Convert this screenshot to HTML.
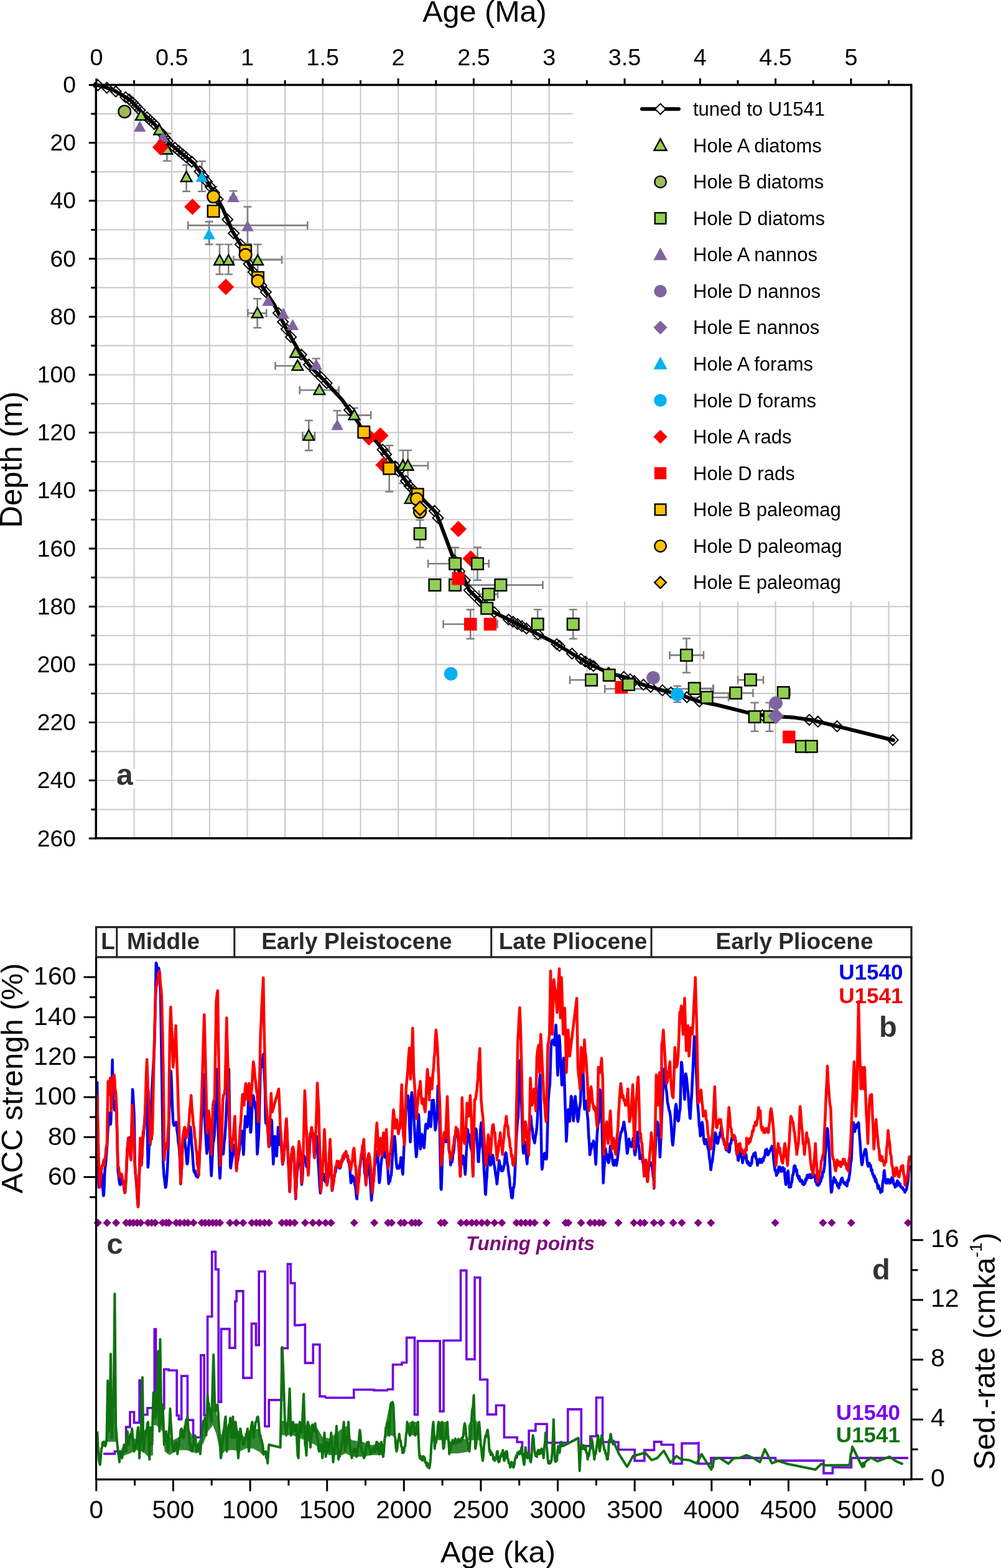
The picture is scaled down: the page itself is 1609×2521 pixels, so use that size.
<!DOCTYPE html>
<html><head><meta charset="utf-8"><title>Age model figure</title><style>html,body{margin:0;padding:0;background:#fff;}svg{display:block;}</style></head><body>
<svg width="1609" height="2521" viewBox="0 0 1609 2521" font-family="'Liberation Sans', Arial, Helvetica, sans-serif"><defs><clipPath id="clipb"><rect x="154.5" y="1539.8" width="1310.5" height="421.2"/></clipPath></defs><rect width="1609" height="2521" fill="#fff"/><path d="M215.6 136.4V1347.8M276.2 136.4V1347.8M336.9 136.4V1347.8M397.5 136.4V1347.8M458.1 136.4V1347.8M518.8 136.4V1347.8M579.5 136.4V1347.8M640.1 136.4V1347.8M700.8 136.4V1347.8M761.4 136.4V1347.8M822 136.4V1347.8M882.7 136.4V1347.8M943.3 967V1347.8M1004 967V1347.8M1064.7 967V1347.8M1125.3 967V1347.8M1186 967V1347.8M1246.6 967V1347.8M1307.2 967V1347.8M1367.9 967V1347.8M1428.5 967V1347.8M154.3 183H921M154.3 229.6H921M154.3 276.2H921M154.3 322.8H921M154.3 369.4H921M154.3 416H921M154.3 462.6H921M154.3 509.2H921M154.3 555.8H921M154.3 602.4H921M154.3 649H921M154.3 695.6H921M154.3 742.2H921M154.3 788.8H921M154.3 835.4H921M154.3 882H921M154.3 928.6H921M154.3 975.2H1464.8M154.3 1021.8H1464.8M154.3 1068.4H1464.8M154.3 1115H1464.8M154.3 1161.6H1464.8M154.3 1208.2H1464.8M154.3 1254.8H1464.8M154.3 1301.4H1464.8" stroke="#c8c8c8" stroke-width="2" fill="none"/>
<path d="M268.4 214.6V258.8M261.9 214.6H274.9M261.9 258.8H274.9M299.6 265.3V307.7M293.1 265.3H306.1M293.1 307.7H306.1M324.4 259.3V307.7M317.9 259.3H330.9M317.9 307.7H330.9M375.1 307V317M368.6 307H381.6M368.6 317H381.6M398 332.5V392M391.5 332.5H404.5M391.5 392H404.5M336.1 356.4V392.9M329.6 356.4H342.6M329.6 392.9H342.6M353 393V441M346.5 393H359.5M346.5 441H359.5M367.3 393V441M360.8 393H373.8M360.8 441H373.8M414.2 393V441M407.7 393H420.7M407.7 441H420.7M413.7 480.2V527M407.2 480.2H420.2M407.2 527H420.2M508.2 576.5V587M501.7 576.5H514.7M501.7 587H514.7M542 660.3V684M535.5 660.3H548.5M535.5 684H548.5M496.3 676V724.1M489.8 676H502.8M489.8 724.1H502.8M625.7 716.3V790.5M619.2 716.3H632.2M619.2 790.5H632.2M647.8 724V777M641.3 724H654.3M641.3 777H654.3M655.6 724V777M649.1 724H662.1M649.1 777H662.1M675.1 836V880.2M668.6 836H681.6M668.6 880.2H681.6M731.6 880.2V906M725.1 880.2H738.1M725.1 906H738.1M767.5 880V932.8M761 880H774M761 932.8H774M756.2 980.1V1027M749.7 980.1H762.7M749.7 1027H762.7M864.2 980V1027M857.7 980H870.7M857.7 1027H870.7M921.2 980V1027M914.7 980H927.7M914.7 1027H927.7M1103.4 1026.5V1081.5M1096.9 1026.5H1109.9M1096.9 1081.5H1109.9M1213.1 1129.8V1175.7M1206.6 1129.8H1219.6M1206.6 1175.7H1219.6M1237 1129.8V1175.7M1230.5 1129.8H1243.5M1230.5 1175.7H1243.5M1088.7 1103V1129M1082.2 1103H1095.2M1082.2 1129H1095.2M261.9 214V224M255.4 214H268.4M255.4 224H268.4M569.4 656V668M562.9 656H575.9M562.9 668H575.9M343 300V316M336.5 300H349.5M336.5 316H349.5M302.2 362.4H494.3M302.2 355.9V368.9M494.3 355.9V368.9M375.5 417.7H453M375.5 411.2V424.2M453 411.2V424.2M398.4 503.6H428.3M398.4 497.1V510.1M428.3 497.1V510.1M442.6 588.2H482M442.6 581.7V594.7M482 581.7V594.7M481.7 627.2H544.6M481.7 620.7V633.7M544.6 620.7V633.7M542 667.6H596.2M542 661.1V674.1M596.2 661.1V674.1M486.4 700.7H506M486.4 694.2V707.2M506 694.2V707.2M640 748.8H688M640 742.3V755.3M688 742.3V755.3M688.1 906.3H731.6M688.1 899.8V912.8M731.6 899.8V912.8M767.5 906.3H785.7M767.5 899.8V912.8M785.7 899.8V912.8M754 940.6H872.5M754 934.1V947.1M872.5 934.1V947.1M712.5 1003.5H756.2M712.5 997V1010M756.2 997V1010M787.9 1003.5H799.6M787.9 997V1010M799.6 997V1010M916 1093.3H950.6M916 1086.8V1099.8M950.6 1086.8V1099.8M1076.5 1053.4H1130.9M1076.5 1046.9V1059.9M1130.9 1046.9V1059.9M1116.2 1106.9H1146.8M1116.2 1100.4V1113.4M1146.8 1100.4V1113.4M1090 1121.3H1171M1090 1114.8V1127.8M1171 1114.8V1127.8M1143 1114.2H1210.4M1143 1107.7V1120.7M1210.4 1107.7V1120.7M1186 1093.1H1227M1186 1086.6V1099.6M1227 1086.6V1099.6M1259.3 1113.6H1270M1259.3 1107.1V1120.1M1270 1107.1V1120.1M972.2 1107.5H1146M972.2 1101V1114M1146 1101V1114M770 955.4H800M770 948.9V961.9M800 948.9V961.9" stroke="#808080" stroke-width="2.6" fill="none"/>
<path d="M157.4 128.5L165.9 137L157.4 145.5L148.9 137ZM171.8 132.6L180.3 141.1L171.8 149.6L163.3 141.1ZM186.1 138.5L194.6 147L186.1 155.5L177.6 147ZM201.9 147.9L210.4 156.4L201.9 164.9L193.4 156.4ZM207.7 151.4L216.2 159.9L207.7 168.4L199.2 159.9ZM213.4 156.4L221.9 164.9L213.4 173.4L204.9 164.9ZM219.2 162.7L227.7 171.2L219.2 179.7L210.7 171.2ZM224.9 168.8L233.4 177.3L224.9 185.8L216.4 177.3ZM236.3 180L244.8 188.5L236.3 197L227.8 188.5ZM242.1 185.4L250.6 193.9L242.1 202.4L233.6 193.9ZM247.8 190.8L256.3 199.3L247.8 207.8L239.3 199.3ZM259.4 205.2L267.9 213.7L259.4 222.2L250.9 213.7ZM265.1 212.5L273.6 221L265.1 229.5L256.6 221ZM269.4 218L277.9 226.5L269.4 235L260.9 226.5ZM280.9 228.9L289.4 237.4L280.9 245.9L272.4 237.4ZM286.7 233.7L295.2 242.2L286.7 250.7L278.2 242.2ZM293.8 239.6L302.3 248.1L293.8 256.6L285.3 248.1ZM299.5 244.4L308 252.9L299.5 261.4L291 252.9ZM308.2 251.5L316.7 260L308.2 268.5L299.7 260ZM321.1 267.2L329.6 275.7L321.1 284.2L312.6 275.7ZM326.8 274.7L335.3 283.2L326.8 291.7L318.3 283.2ZM332.6 283.4L341.1 291.9L332.6 300.4L324.1 291.9ZM338.4 292.1L346.9 300.6L338.4 309.1L329.9 300.6ZM344.1 301.2L352.6 309.7L344.1 318.2L335.6 309.7ZM349.9 311.8L358.4 320.3L349.9 328.8L341.4 320.3ZM365.7 344.5L374.2 353L365.7 361.5L357.2 353ZM375.7 366.6L384.2 375.1L375.7 383.6L367.2 375.1ZM386.4 384.4L394.9 392.9L386.4 401.4L377.9 392.9ZM400.1 416L408.6 424.5L400.1 433L391.6 424.5ZM407.3 428.9L415.8 437.4L407.3 445.9L398.8 437.4ZM413.1 439.2L421.6 447.7L413.1 456.2L404.6 447.7ZM420.2 450.4L428.7 458.9L420.2 467.4L411.7 458.9ZM427.4 461.1L435.9 469.6L427.4 478.1L418.9 469.6ZM447.5 494.8L456 503.3L447.5 511.8L439 503.3ZM454.7 509L463.2 517.5L454.7 526L446.2 517.5ZM460.4 520.6L468.9 529.1L460.4 537.6L451.9 529.1ZM467.6 533.4L476.1 541.9L467.6 550.4L459.1 541.9ZM484.3 561.7L492.8 570.2L484.3 578.7L475.8 570.2ZM496.4 577.8L504.9 586.3L496.4 594.8L487.9 586.3ZM506.4 588.3L514.9 596.8L506.4 605.3L497.9 596.8ZM516.5 598.4L525 606.9L516.5 615.4L508 606.9ZM525.1 607.4L533.6 615.9L525.1 624.4L516.6 615.9ZM561.6 650.8L570.1 659.3L561.6 667.8L553.1 659.3ZM593.4 691.2L601.9 699.7L593.4 708.2L584.9 699.7ZM615 714.4L623.5 722.9L615 731.4L606.5 722.9ZM620.7 721.9L629.2 730.4L620.7 738.9L612.2 730.4ZM635.1 741.3L643.6 749.8L635.1 758.3L626.6 749.8ZM640.8 749.1L649.3 757.6L640.8 766.1L632.3 757.6ZM652.3 764.8L660.8 773.3L652.3 781.8L643.8 773.3ZM658.1 772.7L666.6 781.2L658.1 789.7L649.6 781.2ZM663.7 778.4L672.2 786.9L663.7 795.4L655.2 786.9ZM698.3 813L706.8 821.5L698.3 830L689.8 821.5ZM704 824.2L712.5 832.7L704 841.2L695.5 832.7ZM729.9 892L738.4 900.5L729.9 909L721.4 900.5ZM738.5 910L747 918.5L738.5 927L730 918.5ZM747.1 924.5L755.6 933L747.1 941.5L738.6 933ZM754.3 940.6L762.8 949.1L754.3 957.6L745.8 949.1ZM762.8 949.1L771.3 957.6L762.8 966.1L754.3 957.6ZM771.5 957.8L780 966.3L771.5 974.8L763 966.3ZM783 967.2L791.5 975.7L783 984.2L774.5 975.7ZM794.5 975.9L803 984.4L794.5 992.9L786 984.4ZM817.5 987.7L826 996.2L817.5 1004.7L809 996.2ZM824.7 991.2L833.2 999.7L824.7 1008.2L816.2 999.7ZM831.8 994.8L840.3 1003.3L831.8 1011.8L823.3 1003.3ZM839 998.4L847.5 1006.9L839 1015.4L830.5 1006.9ZM846.2 1002L854.7 1010.5L846.2 1019L837.7 1010.5ZM864.9 1011.4L873.4 1019.9L864.9 1028.4L856.4 1019.9ZM895 1027.2L903.5 1035.7L895 1044.2L886.5 1035.7ZM899.3 1029.9L907.8 1038.4L899.3 1046.9L890.8 1038.4ZM919.4 1042.4L927.9 1050.9L919.4 1059.4L910.9 1050.9ZM933.8 1050.9L942.3 1059.4L933.8 1067.9L925.3 1059.4ZM940.9 1055.2L949.4 1063.7L940.9 1072.2L932.4 1063.7ZM948.2 1059.4L956.7 1067.9L948.2 1076.4L939.7 1067.9ZM953.9 1062.2L962.4 1070.7L953.9 1079.2L945.4 1070.7ZM978.3 1073.2L986.8 1081.7L978.3 1090.2L969.8 1081.7ZM1002.7 1079.9L1011.2 1088.4L1002.7 1096.9L994.2 1088.4ZM1012.9 1083.6L1021.4 1092.1L1012.9 1100.6L1004.4 1092.1ZM1019.4 1086.5L1027.9 1095L1019.4 1103.5L1010.9 1095ZM1034.3 1092.4L1042.8 1100.9L1034.3 1109.4L1025.8 1100.9ZM1045.8 1095.9L1054.3 1104.4L1045.8 1112.9L1037.3 1104.4ZM1064.8 1101.4L1073.3 1109.9L1064.8 1118.4L1056.3 1109.9ZM1078.3 1104.8L1086.8 1113.3L1078.3 1121.8L1069.8 1113.3ZM1104.1 1112.5L1112.6 1121L1104.1 1129.5L1095.6 1121ZM1124.2 1119.3L1132.7 1127.8L1124.2 1136.3L1115.7 1127.8ZM1225.7 1141.4L1234.2 1149.9L1225.7 1158.4L1217.2 1149.9ZM1300.9 1148.8L1309.4 1157.3L1300.9 1165.8L1292.4 1157.3ZM1314.7 1151.7L1323.2 1160.2L1314.7 1168.7L1306.2 1160.2ZM1345.5 1159.2L1354 1167.7L1345.5 1176.2L1337 1167.7ZM1435.1 1181.3L1443.6 1189.8L1435.1 1198.3L1426.6 1189.8Z" fill="#fff" stroke="#000" stroke-width="2"/>
<polyline points="154.5,136.4 166,139 183.8,145.6 209.9,161.2 228,180.7 248.9,200.3 272.3,230.2 295.7,249.7 311.4,262.7 327,283.5 342.6,307 358.2,335.6 373.8,372 389.4,398 399.8,424 414.5,450.3 440.5,489.3 461.4,531 482.2,567.4 497.8,588.2 521.2,611.6 549.8,642.8 575.9,679.3 580.1,687.7 606.1,711.1 629.6,742.3 658.2,781.4 679,802.2 699.8,823 707.6,841.2 731.1,903.7 738.9,919.3 743.7,925.5 754.1,948.9 774.9,969.7 795.7,985.3 821.8,998.3 858.2,1016.6 889.4,1032.2 920.7,1051.7 949.3,1068.6 977.9,1081.6 1006.5,1089.4 1030.6,1099.8 1061.2,1109 1091.7,1116.7 1122.3,1127.4 1152.9,1133.5 1183.5,1141.1 1214.1,1148.8 1244.6,1151.8 1275.2,1153.4 1305.8,1158 1345.6,1167.7 1435.8,1190" fill="none" stroke="#000" stroke-width="6" stroke-linejoin="round" stroke-linecap="round"/>
<circle cx="200.2" cy="179.4" r="9.8" fill="#9BBB59" stroke="#000" stroke-width="2.4"/>
<path d="M226.8 176.8L235.6 192.9L218 192.9Z" fill="#92D050" stroke="#000" stroke-width="2.4"/>
<path d="M224.7 194.1L234.4 211.8L215 211.8Z" fill="#8064A2"/>
<path d="M256.2 200.2L265 216.3L247.4 216.3Z" fill="#92D050" stroke="#000" stroke-width="2.4"/>
<path d="M261.9 210.9L271.6 228.6L252.2 228.6Z" fill="#8064A2"/>
<path d="M268.4 231.4L277.2 247.5L259.6 247.5Z" fill="#92D050" stroke="#000" stroke-width="2.4"/>
<path d="M258 223.5L271.2 236.7L258 249.9L244.8 236.7Z" fill="#FF0000"/>
<path d="M299.6 275.6L308.4 291.7L290.8 291.7Z" fill="#92D050" stroke="#000" stroke-width="2.4"/>
<path d="M324.4 274.7L334.1 292.4L314.7 292.4Z" fill="#00B0F0"/>
<path d="M375.1 307.3L384.8 325L365.4 325Z" fill="#8064A2"/>
<path d="M309.3 319.3L322.5 332.5L309.3 345.7L296.1 332.5Z" fill="#FF0000"/>
<path d="M398 354.1L407.7 371.8L388.3 371.8Z" fill="#8064A2"/>
<path d="M336.1 367.1L345.8 384.8L326.4 384.8Z" fill="#00B0F0"/>
<path d="M353 409.7L361.8 425.8L344.2 425.8Z" fill="#92D050" stroke="#000" stroke-width="2.4"/>
<path d="M367.3 409.7L376.1 425.8L358.5 425.8Z" fill="#92D050" stroke="#000" stroke-width="2.4"/>
<path d="M414.2 409.7L423 425.8L405.4 425.8Z" fill="#92D050" stroke="#000" stroke-width="2.4"/>
<rect x="333.8" y="330.2" width="18.6" height="18.6" fill="#FFC000" stroke="#000" stroke-width="2.4"/>
<circle cx="343.1" cy="316.1" r="9.8" fill="#FFC000" stroke="#000" stroke-width="2.4"/>
<rect x="385.3" y="394" width="18.6" height="18.6" fill="#FFC000" stroke="#000" stroke-width="2.4"/>
<circle cx="394.6" cy="409.8" r="9.8" fill="#FFC000" stroke="#000" stroke-width="2.4"/>
<rect x="405.2" y="437.1" width="18.6" height="18.6" fill="#FFC000" stroke="#000" stroke-width="2.4"/>
<circle cx="414.5" cy="451.6" r="9.8" fill="#FFC000" stroke="#000" stroke-width="2.4"/>
<path d="M363 448L376.2 461.2L363 474.4L349.8 461.2Z" fill="#FF0000"/>
<path d="M430.9 474L440.6 491.7L421.2 491.7Z" fill="#8064A2"/>
<path d="M413.7 494.4L422.5 510.5L404.9 510.5Z" fill="#92D050" stroke="#000" stroke-width="2.4"/>
<path d="M455.4 494.8L465.1 512.5L445.7 512.5Z" fill="#8064A2"/>
<path d="M470.5 513L480.2 530.7L460.8 530.7Z" fill="#8064A2"/>
<path d="M475.1 558.2L483.9 574.3L466.3 574.3Z" fill="#92D050" stroke="#000" stroke-width="2.4"/>
<path d="M478.3 579L487.1 595.1L469.5 595.1Z" fill="#92D050" stroke="#000" stroke-width="2.4"/>
<path d="M508.2 576.8L517.9 594.5L498.5 594.5Z" fill="#8064A2"/>
<path d="M513.4 618L522.2 634.1L504.6 634.1Z" fill="#92D050" stroke="#000" stroke-width="2.4"/>
<path d="M569.4 658.4L578.2 674.5L560.6 674.5Z" fill="#92D050" stroke="#000" stroke-width="2.4"/>
<path d="M542 673.7L551.7 691.4L532.3 691.4Z" fill="#8064A2"/>
<path d="M496.3 691.5L505.1 707.6L487.5 707.6Z" fill="#92D050" stroke="#000" stroke-width="2.4"/>
<path d="M593.1 690.1L606.3 703.3L593.1 716.5L579.9 703.3Z" fill="#FF0000"/>
<path d="M611.4 687L624.6 700.2L611.4 713.4L598.2 700.2Z" fill="#FF0000"/>
<rect x="575.5" y="685.4" width="18.6" height="18.6" fill="#FFC000" stroke="#000" stroke-width="2.4"/>
<path d="M616.6 734.3L629.8 747.5L616.6 760.7L603.4 747.5Z" fill="#FF0000"/>
<rect x="616.4" y="743.9" width="18.6" height="18.6" fill="#FFC000" stroke="#000" stroke-width="2.4"/>
<path d="M647.8 739.6L656.6 755.7L639 755.7Z" fill="#92D050" stroke="#000" stroke-width="2.4"/>
<path d="M655.6 739.6L664.4 755.7L646.8 755.7Z" fill="#92D050" stroke="#000" stroke-width="2.4"/>
<path d="M659.5 793L668.3 809.1L650.7 809.1Z" fill="#92D050" stroke="#000" stroke-width="2.4"/>
<circle cx="675" cy="823" r="9.8" fill="#FFC000" stroke="#000" stroke-width="2.4"/>
<rect x="661.9" y="785.6" width="18.6" height="18.6" fill="#FFC000" stroke="#000" stroke-width="2.4"/>
<circle cx="669.9" cy="802.2" r="9.8" fill="#FFC000" stroke="#000" stroke-width="2.4"/>
<path d="M675.1 806.3L686.1 817.3L675.1 828.3L664.1 817.3Z" fill="#FFC000" stroke="#000" stroke-width="2.4"/>
<rect x="665.8" y="848.8" width="18.6" height="18.6" fill="#92D050" stroke="#000" stroke-width="2.4"/>
<path d="M736.8 837.3L750 850.5L736.8 863.7L723.6 850.5Z" fill="#FF0000"/>
<rect x="722.3" y="897" width="18.6" height="18.6" fill="#92D050" stroke="#000" stroke-width="2.4"/>
<path d="M756.6 884.8L769.8 898L756.6 911.2L743.4 898Z" fill="#FF0000"/>
<rect x="758.2" y="897" width="18.6" height="18.6" fill="#92D050" stroke="#000" stroke-width="2.4"/>
<rect x="689.6" y="931.3" width="18.6" height="18.6" fill="#92D050" stroke="#000" stroke-width="2.4"/>
<rect x="722.2" y="931.3" width="18.6" height="18.6" fill="#92D050" stroke="#000" stroke-width="2.4"/>
<rect x="726.5" y="920" width="20.5" height="20.5" fill="#FF0000"/>
<rect x="795.5" y="931.3" width="18.6" height="18.6" fill="#92D050" stroke="#000" stroke-width="2.4"/>
<rect x="776" y="946.1" width="18.6" height="18.6" fill="#92D050" stroke="#000" stroke-width="2.4"/>
<rect x="773.4" y="968.7" width="18.6" height="18.6" fill="#92D050" stroke="#000" stroke-width="2.4"/>
<rect x="746" y="993.3" width="20.5" height="20.5" fill="#FF0000"/>
<rect x="777.7" y="993.3" width="20.5" height="20.5" fill="#FF0000"/>
<rect x="854.9" y="994.2" width="18.6" height="18.6" fill="#92D050" stroke="#000" stroke-width="2.4"/>
<rect x="911.9" y="994.2" width="18.6" height="18.6" fill="#92D050" stroke="#000" stroke-width="2.4"/>
<circle cx="724.7" cy="1083.4" r="10.8" fill="#00B0F0"/>
<rect x="941.3" y="1084" width="18.6" height="18.6" fill="#92D050" stroke="#000" stroke-width="2.4"/>
<rect x="969.9" y="1076.2" width="18.6" height="18.6" fill="#92D050" stroke="#000" stroke-width="2.4"/>
<rect x="988.5" y="1094.8" width="20.5" height="20.5" fill="#FF0000"/>
<rect x="1001.1" y="1091.3" width="18.6" height="18.6" fill="#92D050" stroke="#000" stroke-width="2.4"/>
<circle cx="1050" cy="1089.7" r="10.8" fill="#8064A2"/>
<rect x="1094.1" y="1044.1" width="18.6" height="18.6" fill="#92D050" stroke="#000" stroke-width="2.4"/>
<circle cx="1088.7" cy="1116.7" r="10.8" fill="#00B0F0"/>
<rect x="1106.9" y="1097.6" width="18.6" height="18.6" fill="#92D050" stroke="#000" stroke-width="2.4"/>
<rect x="1126.8" y="1112" width="18.6" height="18.6" fill="#92D050" stroke="#000" stroke-width="2.4"/>
<rect x="1173.3" y="1104.9" width="18.6" height="18.6" fill="#92D050" stroke="#000" stroke-width="2.4"/>
<rect x="1197.1" y="1083.8" width="18.6" height="18.6" fill="#92D050" stroke="#000" stroke-width="2.4"/>
<rect x="1250" y="1104.3" width="18.6" height="18.6" fill="#92D050" stroke="#000" stroke-width="2.4"/>
<circle cx="1247.1" cy="1130.4" r="10.8" fill="#8064A2"/>
<rect x="1203.8" y="1143.1" width="18.6" height="18.6" fill="#92D050" stroke="#000" stroke-width="2.4"/>
<rect x="1227.7" y="1143.1" width="18.6" height="18.6" fill="#92D050" stroke="#000" stroke-width="2.4"/>
<path d="M1247.1 1138L1260.3 1151.2L1247.1 1164.4L1233.9 1151.2Z" fill="#8064A2"/>
<rect x="1258" y="1174.7" width="20.5" height="20.5" fill="#FF0000"/>
<rect x="1279.1" y="1190.8" width="18.6" height="18.6" fill="#92D050" stroke="#000" stroke-width="2.4"/>
<rect x="1295" y="1190.8" width="18.6" height="18.6" fill="#92D050" stroke="#000" stroke-width="2.4"/>
<rect x="923" y="138" width="540" height="825" fill="#fff"/>
<path d="M1032 175.3H1091" stroke="#000" stroke-width="6" stroke-linecap="round"/>
<path d="M1061.5 166.8L1070 175.3L1061.5 183.8L1053 175.3Z" fill="#fff" stroke="#000" stroke-width="2"/>
<text x="1114" y="186.1" font-size="31" fill="#000">tuned to U1541</text>
<path d="M1061.5 223.3L1071.6 241.7L1051.4 241.7Z" fill="#92D050" stroke="#000" stroke-width="2.4"/>
<text x="1114" y="244.7" font-size="31" fill="#000">Hole A diatoms</text>
<circle cx="1061.5" cy="292.4" r="9.3" fill="#9BBB59" stroke="#000" stroke-width="2.4"/>
<text x="1114" y="303.2" font-size="31" fill="#000">Hole B diatoms</text>
<rect x="1052.7" y="342.1" width="17.7" height="17.7" fill="#92D050" stroke="#000" stroke-width="2.4"/>
<text x="1114" y="361.8" font-size="31" fill="#000">Hole D diatoms</text>
<path d="M1061.5 397.9L1072.6 418.2L1050.4 418.2Z" fill="#8064A2"/>
<text x="1114" y="420.3" font-size="31" fill="#000">Hole A nannos</text>
<circle cx="1061.5" cy="468.1" r="10.2" fill="#8064A2"/>
<text x="1114" y="478.9" font-size="31" fill="#000">Hole D nannos</text>
<path d="M1061.5 515.4L1072.7 526.6L1061.5 537.8L1050.3 526.6Z" fill="#8064A2"/>
<text x="1114" y="537.4" font-size="31" fill="#000">Hole E nannos</text>
<path d="M1061.5 573.6L1072.6 593.8L1050.4 593.8Z" fill="#00B0F0"/>
<text x="1114" y="595.9" font-size="31" fill="#000">Hole A forams</text>
<circle cx="1061.5" cy="643.7" r="10.2" fill="#00B0F0"/>
<text x="1114" y="654.5" font-size="31" fill="#000">Hole D forams</text>
<path d="M1061.5 691L1072.7 702.2L1061.5 713.5L1050.3 702.2Z" fill="#FF0000"/>
<text x="1114" y="713" font-size="31" fill="#000">Hole A rads</text>
<rect x="1051.8" y="751.1" width="19.4" height="19.4" fill="#FF0000"/>
<text x="1114" y="771.6" font-size="31" fill="#000">Hole D rads</text>
<rect x="1052.7" y="810.5" width="17.7" height="17.7" fill="#FFC000" stroke="#000" stroke-width="2.4"/>
<text x="1114" y="830.1" font-size="31" fill="#000">Hole B paleomag</text>
<circle cx="1061.5" cy="877.9" r="9.3" fill="#FFC000" stroke="#000" stroke-width="2.4"/>
<text x="1114" y="888.7" font-size="31" fill="#000">Hole D paleomag</text>
<path d="M1061.5 927.1L1070.8 936.5L1061.5 945.8L1052.2 936.5Z" fill="#FFC000" stroke="#000" stroke-width="2.4"/>
<text x="1114" y="947.2" font-size="31" fill="#000">Hole E paleomag</text>
<path d="M154.3 136.4H1464.8V1347.8H154.3Z" fill="none" stroke="#000" stroke-width="3.5"/>
<path d="M154.9 136.4V125.9M215.6 136.4V128.9M276.2 136.4V125.9M336.9 136.4V128.9M397.5 136.4V125.9M458.1 136.4V128.9M518.8 136.4V125.9M579.5 136.4V128.9M640.1 136.4V125.9M700.8 136.4V128.9M761.4 136.4V125.9M822 136.4V128.9M882.7 136.4V125.9M943.3 136.4V128.9M1004 136.4V125.9M1064.7 136.4V128.9M1125.3 136.4V125.9M1186 136.4V128.9M1246.6 136.4V125.9M1307.2 136.4V128.9M1367.9 136.4V125.9M1428.5 136.4V128.9M154.3 136.4H142.8M154.3 183H146.3M154.3 229.6H142.8M154.3 276.2H146.3M154.3 322.8H142.8M154.3 369.4H146.3M154.3 416H142.8M154.3 462.6H146.3M154.3 509.2H142.8M154.3 555.8H146.3M154.3 602.4H142.8M154.3 649H146.3M154.3 695.6H142.8M154.3 742.2H146.3M154.3 788.8H142.8M154.3 835.4H146.3M154.3 882H142.8M154.3 928.6H146.3M154.3 975.2H142.8M154.3 1021.8H146.3M154.3 1068.4H142.8M154.3 1115H146.3M154.3 1161.6H142.8M154.3 1208.2H146.3M154.3 1254.8H142.8M154.3 1301.4H146.3M154.3 1348H142.8" fill="none" stroke="#000" stroke-width="3"/>
<text x="154.9" y="105" font-size="37.8" text-anchor="middle">0</text>
<text x="276.2" y="105" font-size="37.8" text-anchor="middle">0.5</text>
<text x="397.5" y="105" font-size="37.8" text-anchor="middle">1</text>
<text x="518.8" y="105" font-size="37.8" text-anchor="middle">1.5</text>
<text x="640.1" y="105" font-size="37.8" text-anchor="middle">2</text>
<text x="761.4" y="105" font-size="37.8" text-anchor="middle">2.5</text>
<text x="882.7" y="105" font-size="37.8" text-anchor="middle">3</text>
<text x="1004" y="105" font-size="37.8" text-anchor="middle">3.5</text>
<text x="1125.3" y="105" font-size="37.8" text-anchor="middle">4</text>
<text x="1246.6" y="105" font-size="37.8" text-anchor="middle">4.5</text>
<text x="1367.9" y="105" font-size="37.8" text-anchor="middle">5</text>
<text x="122" y="149" font-size="37.3" text-anchor="end">0</text>
<text x="122" y="242.2" font-size="37.3" text-anchor="end">20</text>
<text x="122" y="335.4" font-size="37.3" text-anchor="end">40</text>
<text x="122" y="428.6" font-size="37.3" text-anchor="end">60</text>
<text x="122" y="521.8" font-size="37.3" text-anchor="end">80</text>
<text x="122" y="615" font-size="37.3" text-anchor="end">100</text>
<text x="122" y="708.2" font-size="37.3" text-anchor="end">120</text>
<text x="122" y="801.4" font-size="37.3" text-anchor="end">140</text>
<text x="122" y="894.6" font-size="37.3" text-anchor="end">160</text>
<text x="122" y="987.8" font-size="37.3" text-anchor="end">180</text>
<text x="122" y="1081" font-size="37.3" text-anchor="end">200</text>
<text x="122" y="1174.2" font-size="37.3" text-anchor="end">220</text>
<text x="122" y="1267.4" font-size="37.3" text-anchor="end">240</text>
<text x="122" y="1360.6" font-size="37.3" text-anchor="end">260</text>
<text x="779" y="35" font-size="48.5" text-anchor="middle">Age (Ma)</text>
<text transform="translate(35 739) rotate(-90)" font-size="49.4" text-anchor="middle">Depth (m)</text>
<rect x="186" y="1236" width="32" height="32" fill="#fff"/>
<text x="187" y="1262" font-size="48" font-weight="bold" fill="#333">a</text>
<g clip-path="url(#clipb)">
<polyline points="156.1,1738.5 156.7,1779.4 157.3,1820.3 157.9,1859.7 158.5,1898.8 159.1,1909.1 159.7,1900.7 160.3,1908.1 160.9,1905.5 161.5,1897.2 162.1,1887 162.7,1884.1 163.3,1887.4 163.9,1890.7 164.5,1898.8 165.1,1907.9 165.7,1915.6 166.3,1922.5 166.9,1920.9 167.5,1908.1 168.1,1891 168.7,1880.2 169.3,1875.6 169.9,1870.1 170.5,1862.7 171.1,1855.2 171.7,1846.9 172.3,1838.7 172.9,1827.2 173.5,1815.5 174.1,1809.3 174.7,1805.3 175.3,1799.2 175.9,1791.2 176.5,1789.3 177.1,1799.6 177.7,1807.7 178.3,1802.5 178.9,1778.4 179.5,1754.1 180.1,1728.5 180.7,1704 181.3,1748.4 181.9,1769.4 182.5,1771.4 183.1,1774.8 183.7,1780.9 184.3,1785.1 184.9,1779.7 185.5,1774.3 186.1,1771.6 186.7,1769 187.3,1787 187.9,1811 188.5,1837.2 189.1,1865.1 189.7,1883.7 190.3,1886.8 190.9,1891.3 191.5,1897.5 192.1,1901.9 192.7,1904.2 193.3,1904.9 193.9,1903.9 194.5,1900 195.1,1893.7 195.7,1890.3 196.3,1894.2 196.9,1898.1 197.5,1900 198.1,1901.6 198.7,1905.6 199.3,1910.3 199.9,1914.3 200.5,1917.5 201.1,1916.9 201.7,1909 202.3,1899.2 202.9,1887.9 203.5,1875.1 204.1,1858.1 204.7,1847.3 205.3,1843 205.9,1835.2 206.5,1835.3 207.1,1841 207.7,1843.3 208.3,1828.8 208.9,1841 209.5,1851.2 210.1,1859.1 210.7,1858.7 211.3,1833.2 211.9,1807.6 212.5,1779.5 213.1,1751.4 213.7,1757.4 214.3,1769.2 214.9,1779.7 215.5,1789.4 216.1,1816.9 216.7,1864.9 217.3,1882.5 217.9,1889.2 218.5,1894.7 219.1,1900 219.7,1908.4 220.3,1918.8 220.9,1928.2 221.5,1936.2 222.1,1939.2 222.7,1923.7 223.3,1906.2 223.9,1887.9 224.5,1869.1 225.1,1846.7 225.7,1838.8 226.3,1856.9 226.9,1869.2 227.5,1871.3 228.1,1861.1 228.7,1850 229.3,1836.2 229.9,1830.1 230.5,1825.1 231.1,1816.9 231.7,1812.2 232.3,1807.2 232.9,1796.6 233.5,1786 234.1,1778.5 234.7,1772.4 235.3,1763.2 235.9,1752.9 236.5,1787.4 237.1,1832.8 237.7,1876.7 238.3,1872.8 238.9,1861.6 239.5,1844.5 240.1,1827 240.7,1815.1 241.3,1840.5 241.9,1835.4 242.5,1830.5 243.1,1831.1 243.7,1831.2 244.3,1750.8 244.9,1740.3 245.5,1729.8 246.1,1719.3 246.7,1708.8 247.3,1698.3 247.9,1687.8 248.5,1671.7 249.1,1642.6 249.7,1613.2 250.3,1580.7 250.9,1548.2 251.5,1549.4 252.1,1554 252.7,1557.2 253.3,1559.8 253.9,1561.6 254.5,1562.2 255.1,1556.4 255.7,1560.5 256.3,1571.3 256.9,1580.6 257.5,1587.3 258.1,1600.6 258.7,1640.1 259.3,1678.2 259.9,1714.1 260.5,1753.3 261.1,1795.4 261.7,1833.3 262.3,1869.5 262.9,1880.6 263.5,1888.5 264.1,1893.8 264.7,1898 265.3,1903.2 265.9,1909.3 266.5,1909 267.1,1905.1 267.7,1898.5 268.3,1890.8 268.9,1881.5 269.5,1870.8 270.1,1853.5 270.7,1834.9 271.3,1811.1 271.9,1789.1 272.5,1771.5 273.1,1754.5 273.7,1738.3 274.3,1725.1 274.9,1722.4 275.5,1735.3 276.1,1750.8 276.7,1769.7 277.3,1785.4 277.9,1797.7 278.5,1805 279.1,1807.8 279.7,1809.3 280.3,1808.1 280.9,1807.1 281.5,1807.8 282.1,1808.5 282.7,1806.3 283.3,1804.1 283.9,1809.5 284.5,1817.5 285.1,1820.6 285.7,1824.9 286.3,1833.2 286.9,1838.5 287.5,1840.7 288.1,1847.5 288.7,1855.9 289.3,1868.8 289.9,1883.8 290.5,1903.4 291.1,1892.4 291.7,1883 292.3,1873.7 292.9,1855.5 293.5,1841.4 294.1,1830.9 294.7,1825.8 295.3,1821.8 295.9,1823.2 296.5,1826.3 297.1,1833.7 297.7,1840.1 298.3,1844.7 298.9,1850.9 299.5,1859.9 300.1,1867 300.7,1871.4 301.3,1871 301.9,1865.2 302.5,1856.4 303.1,1845.1 303.7,1837.2 304.3,1831.9 304.9,1824.3 305.5,1816.2 306.1,1811.8 306.7,1815.8 307.3,1824.3 307.9,1835.9 308.5,1843.1 309.1,1848.9 309.7,1858.1 310.3,1868.1 310.9,1875.2 311.5,1881.9 312.1,1884 312.7,1885.3 313.3,1883 313.9,1882.6 314.5,1888.2 315.1,1890.6 315.7,1888.6 316.3,1889.2 316.9,1891.7 317.5,1892.8 318.1,1892 318.7,1889.7 319.3,1889.8 319.9,1878.5 320.5,1860.7 321.1,1850.5 321.7,1843.8 322.3,1833.8 322.9,1822.4 323.5,1809 324.1,1795.3 324.7,1775 325.3,1754.1 325.9,1739.9 326.5,1726.6 327.1,1742.7 327.7,1758.7 328.3,1777.3 328.9,1796.5 329.5,1807.7 330.1,1814.4 330.7,1825.1 331.3,1837.6 331.9,1846.6 332.5,1854.5 333.1,1850.5 333.7,1843.2 334.3,1831 334.9,1817.9 335.5,1810.5 336.1,1804 336.7,1815.7 337.3,1828.9 337.9,1847.1 338.5,1865.4 339.1,1878.8 339.7,1890.6 340.3,1879.7 340.9,1868.8 341.5,1856 342.1,1842.8 342.7,1837 343.3,1834.5 343.9,1830.6 344.5,1825 345.1,1816.3 345.7,1799.6 346.3,1780.9 346.9,1758.5 347.5,1737.5 348.1,1719.1 348.7,1721.3 349.3,1750.8 349.9,1785.9 350.5,1811.1 351.1,1826.3 351.7,1847.1 352.3,1869.9 352.9,1885 353.5,1894.4 354.1,1885.3 354.7,1871.7 355.3,1855 355.9,1845.5 356.5,1839.3 357.1,1841.7 357.7,1844.4 358.3,1849.9 358.9,1855.4 359.5,1848.2 360.1,1838.9 360.7,1834.2 361.3,1830.1 361.9,1821.2 362.5,1812.2 363.1,1801.5 363.7,1789.7 364.3,1774.6 364.9,1763.5 365.5,1756.5 366.1,1743.6 366.7,1728.8 367.3,1718.4 367.9,1719 368.5,1756.7 369.1,1794.5 369.7,1835.2 370.3,1875.9 370.9,1878 371.5,1872.5 372.1,1868.9 372.7,1866.4 373.3,1862.3 373.9,1856.4 374.5,1852.6 375.1,1850.9 375.7,1846.9 376.3,1841 376.9,1843.2 377.5,1850.9 378.1,1855.2 378.7,1857.6 379.3,1863.8 379.9,1878.9 380.5,1878.5 381.1,1870.3 381.7,1866.3 382.3,1865.1 382.9,1861.3 383.5,1856.7 384.1,1853.1 384.7,1849.2 385.3,1842.6 385.9,1837.7 386.5,1835.8 387.1,1830.5 387.7,1822.8 388.3,1819.7 388.9,1818.3 389.5,1825.8 390.1,1833.4 390.7,1844.6 391.3,1856.3 391.9,1847.9 392.5,1831.1 393.1,1816.4 393.7,1803.5 394.3,1795 394.9,1795.8 395.5,1799 396.1,1806.4 396.7,1811.1 397.3,1811.8 397.9,1804.9 398.5,1788.8 399.1,1772.1 399.7,1753.8 400.3,1744.5 400.9,1760.7 401.5,1783.1 402.1,1802 402.7,1820.4 403.3,1819.9 403.9,1810.5 404.5,1797.6 405.1,1783.3 405.7,1771.9 406.3,1761.4 406.9,1761.3 407.5,1763.6 408.1,1768.4 408.7,1771.6 409.3,1771.3 409.9,1774.9 410.5,1781.6 411.1,1784.3 411.7,1786.9 412.3,1812.2 412.9,1836 413.5,1855.5 414.1,1849.2 414.7,1842.8 415.3,1833.4 415.9,1823.8 416.5,1804.7 417.1,1781.9 417.7,1757.8 418.3,1732.6 418.9,1715.8 419.5,1716.4 420.1,1715.8 420.7,1714.4 421.3,1710.7 421.9,1706.5 422.5,1701.1 423.1,1695 423.7,1697.3 424.3,1712.8 424.9,1727.7 425.5,1740.2 426.1,1752.7 426.7,1798.3 427.3,1805.8 427.9,1780.6 428.5,1786.2 429.1,1797.6 429.7,1808.5 430.3,1816.3 430.9,1824 431.5,1833.8 432.1,1843.6 432.7,1835.1 433.3,1842.8 433.9,1832.5 434.5,1823.8 435.1,1818 435.7,1810.6 436.3,1800.5 436.9,1803.1 437.5,1822.2 438.1,1840.5 438.7,1856.7 439.3,1871.7 439.9,1861.2 440.5,1850.7 441.1,1839 441.7,1827.1 442.3,1829.5 442.9,1839.6 443.5,1848.6 444.1,1856.1 444.7,1858.9 445.3,1848.7 445.9,1838.3 446.5,1825.3 447.1,1812.4 447.7,1818.1 448.3,1826.7 448.9,1834 449.5,1840.6 450.1,1838.3 450.7,1826.4 451.3,1823.5 451.9,1831.2 452.5,1844.1 453.1,1856.5 453.7,1865.1 454.3,1871.9 454.9,1868.7 455.5,1865.5 456.1,1859.2 456.7,1852.8 457.3,1845.8 457.9,1838.5 458.5,1827.5 459.1,1815.7 459.7,1808 460.3,1801 460.9,1811.9 461.5,1824.6 462.1,1838.6 462.7,1853.1 463.3,1865.8 463.9,1876.8 464.5,1889.2 465.1,1904.6 465.7,1916.2 466.3,1901.9 466.9,1887.6 467.5,1875.4 468.1,1863.3 468.7,1856.5 469.3,1851.7 469.9,1848.6 470.5,1847 471.1,1847 471.7,1849.8 472.3,1856.1 472.9,1866.2 473.5,1880.9 474.1,1895.9 474.7,1912.1 475.3,1927.4 475.9,1914.4 476.5,1901.4 477.1,1891.1 477.7,1884.4 478.3,1881 478.9,1875.7 479.5,1865.5 480.1,1854.1 480.7,1849.6 481.3,1844.6 481.9,1847.3 482.5,1853.2 483.1,1859.2 483.7,1874.5 484.3,1889.5 484.9,1904.4 485.5,1900 486.1,1894.1 486.7,1882.3 487.3,1870.4 487.9,1864 488.5,1858.1 489.1,1858.8 489.7,1861 490.3,1866.5 490.9,1867.9 491.5,1866.1 492.1,1870.3 492.7,1875.7 493.3,1875.7 493.9,1874.7 494.5,1872.3 495.1,1884.1 495.7,1887 496.3,1874 496.9,1860.2 497.5,1845.3 498.1,1836.2 498.7,1827.3 499.3,1824.7 499.9,1821.1 500.5,1816.4 501.1,1816.4 501.7,1819.9 502.3,1822.5 502.9,1823.9 503.5,1827.3 504.1,1840.1 504.7,1851.3 505.3,1860.6 505.9,1856 506.5,1844.8 507.1,1838.8 507.7,1834.6 508.3,1827.3 508.9,1826.8 509.5,1836.2 510.1,1845.6 510.7,1855.1 511.3,1864.5 511.9,1873.9 512.5,1883.3 513.1,1892.8 513.7,1902.2 514.3,1911.6 514.9,1918.3 515.5,1910.3 516.1,1911.4 516.7,1901.7 517.3,1896.9 517.9,1889.5 518.5,1885.9 519.1,1890.6 519.7,1891.1 520.3,1888 520.9,1892.1 521.5,1897.9 522.1,1896.9 522.7,1897 523.3,1900.4 523.9,1900.9 524.5,1898.9 525.1,1902.6 525.7,1905.2 526.3,1901.2 526.9,1896.6 527.5,1893.5 528.1,1890 528.7,1874.2 529.3,1864.1 529.9,1850.2 530.5,1836.4 531.1,1847.5 531.7,1864.3 532.3,1877.6 532.9,1891.9 533.5,1908.6 534.1,1913.7 534.7,1907.8 535.3,1905.8 535.9,1903.3 536.5,1897.7 537.1,1893.5 537.7,1890.6 538.3,1886.9 538.9,1884.2 539.5,1883.6 540.1,1878.6 540.7,1877 541.3,1872.2 541.9,1868.7 542.5,1868.8 543.1,1868.9 543.7,1869.1 544.3,1870.9 544.9,1875.7 545.5,1878.3 546.1,1877.9 546.7,1877.5 547.3,1877.1 547.9,1874.4 548.5,1869.4 549.1,1867.6 549.7,1868.5 550.3,1866.1 550.9,1861.5 551.5,1861.5 552.1,1864 552.7,1861.8 553.3,1857.6 553.9,1857 554.5,1857.6 555.1,1856.6 555.7,1854.5 556.3,1854.2 556.9,1857.3 557.5,1859.9 558.1,1860 558.7,1860.1 559.3,1864.6 559.9,1868.1 560.5,1867.7 561.1,1869.9 561.7,1875.2 562.3,1876.1 562.9,1886 563.5,1894.8 564.1,1901.8 564.7,1900.4 565.3,1899.1 565.9,1894.9 566.5,1890.6 567.1,1891.3 567.7,1893.3 568.3,1893.9 568.9,1893.5 569.5,1896.2 570.1,1903.4 570.7,1906.4 571.3,1906.2 571.9,1912.2 572.5,1920.4 573.1,1924.7 573.7,1927.6 574.3,1918.2 574.9,1916.1 575.5,1907.3 576.1,1902 576.7,1898.3 577.3,1890 577.9,1880 578.5,1875.8 579.1,1873.3 579.7,1867.9 580.3,1861.7 580.9,1858.2 581.5,1855.1 582.1,1854.5 582.7,1853.5 583.3,1854.2 583.9,1856.8 584.5,1860.6 585.1,1865.3 585.7,1876.1 586.3,1886.5 586.9,1888.1 587.5,1893.5 588.1,1904.3 588.7,1899.7 589.3,1892.4 589.9,1889.1 590.5,1886.8 591.1,1877.8 591.7,1867.5 592.3,1862.6 592.9,1858.6 593.5,1866 594.1,1876.2 594.7,1891.9 595.3,1902.8 595.9,1909.3 596.5,1920.6 597.1,1929.8 597.7,1921.4 598.3,1919.1 598.9,1914.1 599.5,1906.2 600.1,1900.6 600.7,1896.4 601.3,1886.9 601.9,1877.9 602.5,1873.3 603.1,1870.3 603.7,1863.5 604.3,1855.7 604.9,1855.2 605.5,1855.9 606.1,1854.1 606.7,1851 607.3,1855.6 607.9,1869.2 608.5,1882 609.1,1892.4 609.7,1901.7 610.3,1898 610.9,1893.6 611.5,1883.9 612.1,1875 612.7,1870.5 613.3,1865.6 613.9,1859.7 614.5,1854.9 615.1,1853.1 615.7,1850 616.3,1844.2 616.9,1844.2 617.5,1854.5 618.1,1859.3 618.7,1860.6 619.3,1858.2 619.9,1855.1 620.5,1849.5 621.1,1844.5 621.7,1857.2 622.3,1869.3 622.9,1874.6 623.5,1881 624.1,1893.5 624.7,1903.2 625.3,1900.2 625.9,1898.6 626.5,1899.7 627.1,1897.6 627.7,1892.8 628.3,1890.7 628.9,1889.8 629.5,1881.1 630.1,1871.2 630.7,1862.2 631.3,1853.8 631.9,1846.5 632.5,1840.5 633.1,1834.9 633.7,1830.5 634.3,1827 634.9,1833.1 635.5,1840 636.1,1852.9 636.7,1864.6 637.3,1870.9 637.9,1876.2 638.5,1878.6 639.1,1878.5 639.7,1874.6 640.3,1874.9 640.9,1878.4 641.5,1877.8 642.1,1875.8 642.7,1873.8 643.3,1871.7 643.9,1866.9 644.5,1861 645.1,1862.5 645.7,1871 646.3,1878.6 646.9,1884.5 647.5,1888 648.1,1874.4 648.7,1860.8 649.3,1844.2 649.9,1840.5 650.5,1827.3 651.1,1809.4 651.7,1799 652.3,1787.9 652.9,1779.3 653.5,1771.2 654.1,1767.5 654.7,1764.4 655.3,1762.8 655.9,1761.9 656.5,1766.9 657.1,1778 657.7,1792.7 658.3,1810.3 658.9,1824.5 659.5,1836.2 660.1,1823.6 660.7,1795.7 661.3,1762.5 661.9,1756.5 662.5,1761.9 663.1,1765.9 663.7,1768.5 664.3,1774.4 664.9,1787.5 665.5,1800.4 666.1,1811.2 666.7,1822.1 667.3,1833.2 667.9,1844.4 668.5,1852.7 669.1,1860 669.7,1857.7 670.3,1847.1 670.9,1833.3 671.5,1817.4 672.1,1803.9 672.7,1791.7 673.3,1796.1 673.9,1808.4 674.5,1822.3 675.1,1838 675.7,1847.4 676.3,1840.5 676.9,1833.9 677.5,1828.7 678.1,1823.5 678.7,1825.6 679.3,1828.5 679.9,1835.5 680.5,1842.7 681.1,1844.3 681.7,1845.5 682.3,1837 682.9,1828.6 683.5,1818.9 684.1,1808.9 684.7,1807.4 685.3,1810.4 685.9,1812.5 686.5,1813.5 687.1,1814 687.7,1813.5 688.3,1808.3 688.9,1800 689.5,1797.9 690.1,1787.6 690.7,1794.5 691.3,1801.3 691.9,1806.4 692.5,1811.5 693.1,1800.7 693.7,1786 694.3,1769.5 694.9,1769.3 695.5,1770.4 696.1,1769.9 696.7,1768.8 697.3,1775.4 697.9,1788.4 698.5,1800.2 699.1,1809.6 699.7,1816.9 700.3,1812.6 700.9,1808.2 701.5,1802.2 702.1,1796.2 702.7,1783.5 703.3,1766.9 703.9,1745.7 704.5,1754.6 705.1,1769.9 705.7,1783.6 706.3,1796.3 706.9,1818 707.5,1851.5 708.1,1882.3 708.7,1910.6 709.3,1912.5 709.9,1898.7 710.5,1878 711.1,1858.9 711.7,1848.4 712.3,1839.6 712.9,1832.2 713.5,1825 714.1,1823.9 714.7,1825.1 715.3,1827.1 715.9,1829.9 716.5,1826.1 717.1,1836.1 717.7,1835.6 718.3,1832.4 718.9,1833.1 719.5,1832.5 720.1,1827.1 720.7,1823.2 721.3,1839.7 721.9,1850.7 722.5,1852.9 723.1,1856.4 723.7,1863.1 724.3,1873.2 724.9,1869.7 725.5,1866.3 726.1,1867.2 726.7,1868.2 727.3,1863.6 727.9,1857.2 728.5,1854.4 729.1,1852.4 729.7,1846.2 730.3,1839.2 730.9,1830.4 731.5,1827.6 732.1,1823.8 732.7,1817.4 733.3,1816.1 733.9,1819.6 734.5,1819.9 735.1,1817.9 735.7,1822.5 736.3,1832 736.9,1835.7 737.5,1840.3 738.1,1853.6 738.7,1868.3 739.3,1880.2 739.9,1891.2 740.5,1871.2 741.1,1872.4 741.7,1868.4 742.3,1865.7 742.9,1864.8 743.5,1862.4 744.1,1858.3 744.7,1860.1 745.3,1867.9 745.9,1872.4 746.5,1874 747.1,1879.7 747.7,1888.2 748.3,1881.6 748.9,1866.4 749.5,1854.9 750.1,1845.1 750.7,1831.2 751.3,1815.7 751.9,1816.7 752.5,1822.4 753.1,1822.9 753.7,1823.9 754.3,1830.6 754.9,1835.9 755.5,1837.7 756.1,1840.6 756.7,1844.9 757.3,1847.3 757.9,1847.8 758.5,1850.3 759.1,1856.4 759.7,1876.3 760.3,1889.5 760.9,1862.9 761.5,1836.4 762.1,1830.1 762.7,1822.8 763.3,1821.2 763.9,1821.5 764.5,1819.2 765.1,1815 765.7,1816.6 766.3,1828.7 766.9,1838.7 767.5,1845.7 768.1,1855.2 768.7,1867.6 769.3,1867.9 769.9,1856.2 770.5,1849.1 771.1,1844.2 771.7,1831.7 772.3,1818 772.9,1810 773.5,1804.9 774.1,1812.6 774.7,1821.2 775.3,1832.9 775.9,1843.4 776.5,1851.1 777.1,1860.6 777.7,1873.9 778.3,1885.4 778.9,1893.8 779.5,1904.7 780.1,1919 780.7,1920.4 781.3,1907.8 781.9,1899.4 782.5,1893.2 783.1,1881.5 783.7,1868.6 784.3,1859.9 784.9,1853 785.5,1854.8 786.1,1857.8 786.7,1864.9 787.3,1870.7 787.9,1872.5 788.5,1873.4 789.1,1872.2 789.7,1869.4 790.3,1863.3 790.9,1859 791.5,1857.2 792.1,1857.4 792.7,1860.2 793.3,1864.4 793.9,1870 794.5,1873.9 795.1,1876.3 795.7,1880.6 796.3,1886.3 796.9,1889.8 797.5,1891.9 798.1,1897.1 798.7,1903.6 799.3,1899.6 799.9,1891.8 800.5,1886.1 801.1,1881 801.7,1873.7 802.3,1865.9 802.9,1869.3 803.5,1874.2 804.1,1874.4 804.7,1874.2 805.3,1878.4 805.9,1882.4 806.5,1879.4 807.1,1876.7 807.7,1879.7 808.3,1881.9 808.9,1879.4 809.5,1876.9 810.1,1875 810.7,1871.9 811.3,1864.4 811.9,1858 812.5,1854.8 813.1,1853.3 813.7,1855.2 814.3,1859.2 814.9,1866.6 815.5,1871.6 816.1,1873 816.7,1876.9 817.3,1883.8 817.9,1888.6 818.5,1891.2 819.1,1897.1 819.7,1905.5 820.3,1910.2 820.9,1912.3 821.5,1918.5 822.1,1924.9 822.7,1925.8 823.3,1926.1 823.9,1925.1 824.5,1917.6 825.1,1908.9 825.7,1909.2 826.3,1906.4 826.9,1900.7 827.5,1888.9 828.1,1876.3 828.7,1861.7 829.3,1844.2 829.9,1832.4 830.5,1820.7 831.1,1812.6 831.7,1804.4 832.3,1799.9 832.9,1796 833.5,1772.1 834.1,1738.1 834.7,1706.8 835.3,1705.2 835.9,1715.1 836.5,1727.2 837.1,1741.3 837.7,1756.4 838.3,1773.4 838.9,1792 839.5,1813.5 840.1,1832.4 840.7,1848 841.3,1854.2 841.9,1850.2 842.5,1845.7 843.1,1840.2 843.7,1835.8 844.3,1843.7 844.9,1851 845.5,1853.8 846.1,1857.8 846.7,1866.8 847.3,1871.2 847.9,1860 848.5,1850.6 849.1,1854.1 849.7,1857.6 850.3,1835.5 850.9,1819.6 851.5,1815.6 852.1,1810.9 852.7,1802.9 853.3,1794.8 853.9,1802.7 854.5,1810.6 855.1,1812.5 855.7,1814.8 856.3,1822.8 856.9,1830 857.5,1831 858.1,1832 858.7,1834.9 859.3,1837.8 859.9,1834.2 860.5,1828.1 861.1,1825.3 861.7,1823.4 862.3,1818.5 862.9,1812.9 863.5,1803.3 864.1,1793.1 864.7,1780.4 865.3,1766.6 865.9,1756.5 866.5,1750.3 867.1,1743 867.7,1733.2 868.3,1728.1 868.9,1765.2 869.5,1802.2 870.1,1837.4 870.7,1872.3 871.3,1880 871.9,1876.4 872.5,1869.5 873.1,1861.6 873.7,1858.5 874.3,1856.5 874.9,1855.2 875.5,1854.2 876.1,1859.6 876.7,1863.5 877.3,1861 877.9,1860.5 878.5,1863.5 879.1,1852.2 879.7,1828.1 880.3,1805.5 880.9,1785.5 881.5,1767.3 882.1,1759.9 882.7,1752.5 883.3,1747.7 883.9,1743.2 884.5,1724.8 885.1,1702.9 885.7,1683.9 886.3,1677.9 886.9,1674.7 887.5,1673 888.1,1672.2 888.7,1672.1 889.3,1673 889.9,1674.5 890.5,1677.6 891.1,1680.2 891.7,1671.5 892.3,1662.7 892.9,1655.2 893.5,1648 894.1,1657.2 894.7,1675.5 895.3,1695.4 895.9,1717.1 896.5,1728.8 897.1,1711.4 897.7,1694.2 898.3,1679.6 898.9,1664.9 899.5,1671.7 900.1,1681.9 900.7,1696.8 901.3,1710.6 901.9,1720.1 902.5,1731.2 903.1,1744.7 903.7,1743.7 904.3,1730.8 904.9,1718.6 905.5,1707.5 906.1,1700.9 906.7,1719 907.3,1738.3 907.9,1759.9 908.5,1778.4 909.1,1793.9 909.7,1813.5 910.3,1835.1 910.9,1826.8 911.5,1812.7 912.1,1800.3 912.7,1788.8 913.3,1783.9 913.9,1787.4 914.5,1791.6 915.1,1797.7 915.7,1802.9 916.3,1791.2 916.9,1779.5 917.5,1770.7 918.1,1762.4 918.7,1763.7 919.3,1770.1 919.9,1778.6 920.5,1788.1 921.1,1795.5 921.7,1802.2 922.3,1796.6 922.9,1788.2 923.5,1777.8 924.1,1766.3 924.7,1762.8 925.3,1770.6 925.9,1775.1 926.5,1777.2 927.1,1785.1 927.7,1794.8 928.3,1799.6 928.9,1803.2 929.5,1800.6 930.1,1796.2 930.7,1787 931.3,1781.3 931.9,1780 932.5,1775.8 933.1,1769.7 933.7,1751.8 934.3,1730.4 934.9,1707.4 935.5,1700.2 936.1,1709.2 936.7,1717 937.3,1723.1 937.9,1735.5 938.5,1754.7 939.1,1775.9 939.7,1783.5 940.3,1779 940.9,1777.3 941.5,1777.6 942.1,1774.7 942.7,1769.9 943.3,1777 943.9,1789.9 944.5,1795.4 945.1,1801.8 945.7,1816.1 946.3,1827.3 946.9,1833.9 947.5,1844.3 948.1,1856.6 948.7,1854.2 949.3,1850.1 949.9,1848.4 950.5,1846.8 951.1,1842.6 951.7,1838.7 952.3,1840.4 952.9,1841.6 953.5,1837.5 954.1,1834.4 954.7,1836.7 955.3,1839.9 955.9,1847 956.5,1854 957.1,1862.9 957.7,1871.9 958.3,1860.1 958.9,1843 959.5,1830.5 960.1,1819.5 960.7,1813.5 961.3,1807.6 961.9,1805.7 962.5,1803.8 963.1,1786.6 963.7,1768.2 964.3,1752 964.9,1755.8 965.5,1761.2 966.1,1769.2 966.7,1778.2 967.3,1796.1 967.9,1821.7 968.5,1848.6 969.1,1878.3 969.7,1902 970.3,1890.6 970.9,1880.2 971.5,1873.8 972.1,1866 972.7,1854.1 973.3,1846.9 973.9,1851.1 974.5,1855 975.1,1855.6 975.7,1856.1 976.3,1860.5 976.9,1865.3 977.5,1867.9 978.1,1869.5 978.7,1868 979.3,1863.7 979.9,1858 980.5,1849.6 981.1,1842.7 981.7,1848.1 982.3,1853.4 982.9,1854.8 983.5,1855.9 984.1,1860.7 984.7,1866.9 985.3,1870.8 985.9,1872.6 986.5,1873.6 987.1,1873.2 987.7,1872.4 988.3,1868.8 988.9,1865.2 989.5,1869.1 990.1,1872.2 990.7,1873.7 991.3,1870.8 991.9,1867.9 992.5,1863.2 993.1,1858.1 993.7,1853.9 994.3,1850.3 994.9,1843.9 995.5,1836.1 996.1,1831.8 996.7,1828.8 997.3,1824.6 997.9,1820.1 998.5,1819.7 999.1,1820.3 999.7,1817.6 1000.3,1814.3 1000.9,1813.1 1001.5,1812.1 1002.1,1808.5 1002.7,1803.9 1003.3,1805 1003.9,1811.2 1004.5,1816.2 1005.1,1818.8 1005.7,1822.2 1006.3,1831.5 1006.9,1840.7 1007.5,1847.6 1008.1,1854.4 1008.7,1852.9 1009.3,1848.4 1009.9,1842.2 1010.5,1834.7 1011.1,1831.1 1011.7,1834.9 1012.3,1837 1012.9,1836.6 1013.5,1838.4 1014.1,1843.2 1014.7,1843.7 1015.3,1839.9 1015.9,1838.3 1016.5,1838.7 1017.1,1835.6 1017.7,1830.1 1018.3,1833.7 1018.9,1842.4 1019.5,1849.5 1020.1,1854.3 1020.7,1857.1 1021.3,1853.9 1021.9,1848.4 1022.5,1839.8 1023.1,1835.4 1023.7,1834 1024.3,1827.7 1024.9,1819.9 1025.5,1828.5 1026.1,1838.5 1026.7,1842.7 1027.3,1846.8 1027.9,1855.3 1028.5,1863 1029.1,1859.6 1029.7,1857 1030.3,1860.3 1030.9,1862.4 1031.5,1858.9 1032.1,1857.6 1032.7,1864 1033.3,1868.9 1033.9,1869.4 1034.5,1874.6 1035.1,1886 1035.7,1890.7 1036.3,1883.5 1036.9,1876.7 1037.5,1871.9 1038.1,1867.1 1038.7,1873.9 1039.3,1881.1 1039.9,1889.5 1040.5,1898.4 1041.1,1897.1 1041.7,1888.4 1042.3,1881.9 1042.9,1876.7 1043.5,1873.4 1044.1,1869.5 1044.7,1870.7 1045.3,1873.8 1045.9,1872.3 1046.5,1869.5 1047.1,1871 1047.7,1873.4 1048.3,1877.4 1048.9,1881.7 1049.5,1887.2 1050.1,1893.4 1050.7,1892 1051.3,1910.5 1051.9,1881.8 1052.5,1863.5 1053.1,1855.1 1053.7,1842.2 1054.3,1829.3 1054.9,1818 1055.5,1806.9 1056.1,1803.7 1056.7,1803.9 1057.3,1806.3 1057.9,1810.9 1058.5,1816.6 1059.1,1825.2 1059.7,1834.3 1060.3,1847.3 1060.9,1860.3 1061.5,1847.9 1062.1,1833 1062.7,1831.4 1063.3,1806.3 1063.9,1791.4 1064.5,1774.8 1065.1,1761.2 1065.7,1749.9 1066.3,1735.5 1066.9,1719.3 1067.5,1718.7 1068.1,1726 1068.7,1731 1069.3,1735 1069.9,1741.7 1070.5,1749.3 1071.1,1753.4 1071.7,1756.7 1072.3,1763.9 1072.9,1771.7 1073.5,1774.6 1074.1,1777 1074.7,1780.7 1075.3,1784.5 1075.9,1785.6 1076.5,1786.9 1077.1,1791 1077.7,1795.3 1078.3,1801.9 1078.9,1809 1079.5,1819.5 1080.1,1829.3 1080.7,1836.6 1081.3,1841.3 1081.9,1837.8 1082.5,1830.4 1083.1,1822.4 1083.7,1815.5 1084.3,1806.5 1084.9,1793.7 1085.5,1783.5 1086.1,1777.1 1086.7,1775.4 1087.3,1779.4 1087.9,1785.2 1088.5,1792.7 1089.1,1798.2 1089.7,1802 1090.3,1802.4 1090.9,1800.5 1091.5,1795.5 1092.1,1788.9 1092.7,1785.3 1093.3,1783 1093.9,1760.3 1094.5,1732.3 1095.1,1707.7 1095.7,1708.1 1096.3,1713.8 1096.9,1720.9 1097.5,1728.7 1098.1,1735.9 1098.7,1742.1 1099.3,1749.2 1099.9,1759 1100.5,1767.6 1101.1,1750.3 1101.7,1736.4 1102.3,1726.5 1102.9,1729.3 1103.5,1732.2 1104.1,1738.6 1104.7,1745.4 1105.3,1750.9 1105.9,1755.8 1106.5,1763.1 1107.1,1772.6 1107.7,1780.9 1108.3,1787 1108.9,1797.1 1109.5,1798.3 1110.1,1785.6 1110.7,1775.4 1111.3,1768.2 1111.9,1758 1112.5,1744.6 1113.1,1732.6 1113.7,1721.8 1114.3,1707.5 1114.9,1690.6 1115.5,1677.5 1116.1,1666.4 1116.7,1670.4 1117.3,1681.1 1117.9,1693.1 1118.5,1706.4 1119.1,1719.5 1119.7,1732.4 1120.3,1745.5 1120.9,1760.6 1121.5,1775.8 1122.1,1782.8 1122.7,1789.3 1123.3,1799.9 1123.9,1808.8 1124.5,1812.5 1125.1,1818.2 1125.7,1826.5 1126.3,1825.2 1126.9,1817.3 1127.5,1810.9 1128.1,1806.8 1128.7,1804.3 1129.3,1808.2 1129.9,1813.7 1130.5,1823.6 1131.1,1831.6 1131.7,1834.8 1132.3,1837.5 1132.9,1839.3 1133.5,1838.5 1134.1,1833.5 1134.7,1831.8 1135.3,1834 1135.9,1835.6 1136.5,1836.7 1137.1,1839.8 1137.7,1844.6 1138.3,1846.8 1138.9,1847.2 1139.5,1852.3 1140.1,1860.1 1140.7,1864.6 1141.3,1867.5 1141.9,1873.6 1142.5,1880.9 1143.1,1877.7 1143.7,1871.5 1144.3,1869.3 1144.9,1867.9 1145.5,1862.5 1146.1,1856.6 1146.7,1852.2 1147.3,1847.9 1147.9,1839.6 1148.5,1831.1 1149.1,1825.9 1149.7,1821.1 1150.3,1822.6 1150.9,1824.6 1151.5,1830.7 1152.1,1836.1 1152.7,1837.5 1153.3,1838.4 1153.9,1837.4 1154.5,1834.7 1155.1,1829.3 1155.7,1827.8 1156.3,1829.3 1156.9,1826.3 1157.5,1821.5 1158.1,1820.4 1158.7,1819.2 1159.3,1812.5 1159.9,1815.3 1160.5,1818.4 1161.1,1823.1 1161.7,1829.2 1162.3,1832 1162.9,1832.4 1163.5,1834.9 1164.1,1838.8 1164.7,1840.3 1165.3,1840.5 1165.9,1843 1166.5,1846.4 1167.1,1848.3 1167.7,1849 1168.3,1846 1168.9,1838.4 1169.5,1842.8 1170.1,1847.6 1170.7,1850.3 1171.3,1851.8 1171.9,1852.4 1172.5,1851.8 1173.1,1846.4 1173.7,1838.3 1174.3,1837.7 1174.9,1838.8 1175.5,1834 1176.1,1829.9 1176.7,1830.3 1177.3,1829.4 1177.9,1830.4 1178.5,1831.8 1179.1,1832 1179.7,1829.2 1180.3,1827.7 1180.9,1829.2 1181.5,1831.1 1182.1,1835.3 1182.7,1838.5 1183.3,1846.4 1183.9,1852.4 1184.5,1856.3 1185.1,1857.2 1185.7,1857.7 1186.3,1865.3 1186.9,1865.8 1187.5,1861.1 1188.1,1858.9 1188.7,1858 1189.3,1854.7 1189.9,1850.3 1190.5,1853.2 1191.1,1858.7 1191.7,1859.8 1192.3,1859.8 1192.9,1864.3 1193.5,1869.6 1194.1,1866.9 1194.7,1863.1 1195.3,1862.6 1195.9,1862.4 1196.5,1859.3 1197.1,1856.2 1197.7,1858.8 1198.3,1858.8 1198.9,1855.8 1199.5,1857.9 1200.1,1865.7 1200.7,1868.7 1201.3,1870.1 1201.9,1867.8 1202.5,1867.6 1203.1,1871.4 1203.7,1872.8 1204.3,1870.4 1204.9,1870.5 1205.5,1873.8 1206.1,1874.2 1206.7,1871.5 1207.3,1870.5 1207.9,1871.1 1208.5,1867.7 1209.1,1861.4 1209.7,1859.3 1210.3,1859.6 1210.9,1857.7 1211.5,1854.9 1212.1,1856 1212.7,1858.5 1213.3,1856.5 1213.9,1853.2 1214.5,1857.2 1215.1,1862.7 1215.7,1863.2 1216.3,1863 1216.9,1868 1217.5,1873.6 1218.1,1870.2 1218.7,1866.6 1219.3,1868.2 1219.9,1869.4 1220.5,1866.1 1221.1,1863.6 1221.7,1866.7 1222.3,1868.8 1222.9,1866.2 1223.5,1864.8 1224.1,1867.9 1224.7,1869.1 1225.3,1864.9 1225.9,1862.8 1226.5,1865.6 1227.1,1866 1227.7,1862.1 1228.3,1859.9 1228.9,1860.4 1229.5,1857.8 1230.1,1851.6 1230.7,1848.7 1231.3,1849 1231.9,1848.6 1232.5,1847.6 1233.1,1850.3 1233.7,1855.6 1234.3,1857 1234.9,1856.4 1235.5,1855.2 1236.1,1853.9 1236.7,1852.5 1237.3,1851.1 1237.9,1849.7 1238.5,1848.4 1239.1,1847 1239.7,1845.6 1240.3,1844.3 1240.9,1842.9 1241.5,1843.9 1242.1,1847.9 1242.7,1853.9 1243.3,1862 1243.9,1867.9 1244.5,1872.1 1245.1,1876.7 1245.7,1881.8 1246.3,1882.7 1246.9,1881.3 1247.5,1884.6 1248.1,1889.9 1248.7,1888.5 1249.3,1884.7 1249.9,1885.3 1250.5,1885.9 1251.1,1880.4 1251.7,1876.5 1252.3,1877 1252.9,1876.9 1253.5,1876.2 1254.1,1877.8 1254.7,1881.9 1255.3,1883.5 1255.9,1882.8 1256.5,1882.6 1257.1,1882.8 1257.7,1880.4 1258.3,1876.9 1258.9,1879.6 1259.5,1882.5 1260.1,1879.5 1260.7,1879.2 1261.3,1886.9 1261.9,1894.5 1262.5,1899.6 1263.1,1904.6 1263.7,1903.2 1264.3,1900.7 1264.9,1893.9 1265.5,1886.7 1266.1,1884.5 1266.7,1882.5 1267.3,1890.4 1267.9,1899.5 1268.5,1908.7 1269.1,1905.8 1269.7,1903.6 1270.3,1906.6 1270.9,1908.4 1271.5,1904.7 1272.1,1901.6 1272.7,1900.7 1273.3,1896.9 1273.9,1889.8 1274.5,1888.2 1275.1,1888.9 1275.7,1881.8 1276.3,1875.5 1276.9,1874.4 1277.5,1874.1 1278.1,1874.8 1278.7,1878.1 1279.3,1882.6 1279.9,1881.3 1280.5,1880.7 1281.1,1886.7 1281.7,1890.5 1282.3,1891.1 1282.9,1892.6 1283.5,1894.6 1284.1,1892.6 1284.7,1891.2 1285.3,1896.6 1285.9,1899 1286.5,1896.5 1287.1,1897.2 1287.7,1899.7 1288.3,1898.6 1288.9,1897.6 1289.5,1902 1290.1,1903.7 1290.7,1900.4 1291.3,1901.2 1291.9,1904.7 1292.5,1903.6 1293.1,1901.9 1293.7,1903 1294.3,1901.8 1294.9,1895.8 1295.5,1894.8 1296.1,1897.5 1296.7,1894.2 1297.3,1889.8 1297.9,1890.7 1298.5,1890.8 1299.1,1889.3 1299.7,1890.3 1300.3,1893.4 1300.9,1891.4 1301.5,1888.3 1302.1,1891.7 1302.7,1893.4 1303.3,1890.8 1303.9,1891 1304.5,1893.8 1305.1,1891.5 1305.7,1887.6 1306.3,1890.6 1306.9,1891.9 1307.5,1888 1308.1,1887.6 1308.7,1890.5 1309.3,1890.7 1309.9,1889.8 1310.5,1895.9 1311.1,1900.2 1311.7,1898.2 1312.3,1899.4 1312.9,1904.4 1313.5,1904.9 1314.1,1903.7 1314.7,1905.2 1315.3,1905.8 1315.9,1901.8 1316.5,1900.8 1317.1,1903.6 1317.7,1901.4 1318.3,1897 1318.9,1898.5 1319.5,1899.3 1320.1,1894.4 1320.7,1892.1 1321.3,1893.4 1321.9,1890 1322.5,1884.3 1323.1,1884.6 1323.7,1884.8 1324.3,1881.2 1324.9,1877.3 1325.5,1872.8 1326.1,1862.2 1326.7,1853.4 1327.3,1847.5 1327.9,1838.7 1328.5,1827.3 1329.1,1819.4 1329.7,1814.3 1330.3,1816 1330.9,1822.2 1331.5,1829.8 1332.1,1839.7 1332.7,1849.6 1333.3,1859.7 1333.9,1871.2 1334.5,1886.3 1335.1,1900 1335.7,1910.8 1336.3,1917.1 1336.9,1915.6 1337.5,1911.5 1338.1,1905.3 1338.7,1902.5 1339.3,1901.4 1339.9,1897.3 1340.5,1893.2 1341.1,1896.8 1341.7,1899.8 1342.3,1897.9 1342.9,1896.6 1343.5,1899.5 1344.1,1901.7 1344.7,1900.6 1345.3,1901.6 1345.9,1906.3 1346.5,1907.4 1347.1,1905.1 1347.7,1906.8 1348.3,1910.2 1348.9,1906.9 1349.5,1902.7 1350.1,1904.2 1350.7,1904.3 1351.3,1899.8 1351.9,1896.5 1352.5,1895.3 1353.1,1894.5 1353.7,1893.9 1354.3,1896.1 1354.9,1900.1 1355.5,1901.1 1356.1,1900.3 1356.7,1901.4 1357.3,1903.2 1357.9,1902 1358.5,1901.3 1359.1,1904.3 1359.7,1905.1 1360.3,1902.9 1360.9,1904 1361.5,1906.9 1362.1,1902.5 1362.7,1897.4 1363.3,1898 1363.9,1898.8 1364.5,1895 1365.1,1891.1 1365.7,1887.4 1366.3,1883.4 1366.9,1876 1367.5,1869.4 1368.1,1866.9 1368.7,1861.8 1369.3,1845.8 1369.9,1829.8 1370.5,1817.8 1371.1,1805.8 1371.7,1804.9 1372.3,1806.7 1372.9,1811.2 1373.5,1817.4 1374.1,1819.3 1374.7,1815 1375.3,1813.1 1375.9,1814 1376.5,1812.4 1377.1,1808.7 1377.7,1807.7 1378.3,1808.9 1378.9,1808.6 1379.5,1805.8 1380.1,1805 1380.7,1813.9 1381.3,1822.7 1381.9,1829.9 1382.5,1837 1383.1,1846.2 1383.7,1856 1384.3,1863.7 1384.9,1869.9 1385.5,1872.9 1386.1,1870.9 1386.7,1867.4 1387.3,1861.9 1387.9,1858.4 1388.5,1856.9 1389.1,1854.3 1389.7,1850.9 1390.3,1848.4 1390.9,1847.8 1391.5,1847.8 1392.1,1850.9 1392.7,1854.7 1393.3,1861.7 1393.9,1867.9 1394.5,1871.3 1395.1,1874.1 1395.7,1875.3 1396.3,1874.9 1396.9,1871.5 1397.5,1870.2 1398.1,1872.5 1398.7,1873.7 1399.3,1873.5 1399.9,1877.1 1400.5,1882.5 1401.1,1881.3 1401.7,1880.8 1402.3,1885.9 1402.9,1888.7 1403.5,1888 1404.1,1889.8 1404.7,1892.9 1405.3,1891.5 1405.9,1890.7 1406.5,1897 1407.1,1899.4 1407.7,1895.5 1408.3,1896.8 1408.9,1901.3 1409.5,1902.3 1410.1,1903 1410.7,1907.7 1411.3,1910.7 1411.9,1907.3 1412.5,1906.7 1413.1,1910.6 1413.7,1912 1414.3,1911.3 1414.9,1913.7 1415.5,1917.4 1416.1,1915.4 1416.7,1913 1417.3,1915.6 1417.9,1915.6 1418.5,1906.6 1419.1,1899.3 1419.7,1896.6 1420.3,1892.2 1420.9,1884.1 1421.5,1881.7 1422.1,1889 1422.7,1895.6 1423.3,1898.7 1423.9,1901.8 1424.5,1902.1 1425.1,1902.4 1425.7,1899.7 1426.3,1896.3 1426.9,1896.3 1427.5,1898.9 1428.1,1898.5 1428.7,1896.6 1429.3,1898.7 1429.9,1902.6 1430.5,1902.1 1431.1,1900.1 1431.7,1900.5 1432.3,1900.9 1432.9,1896.5 1433.5,1893.4 1434.1,1894.3 1434.7,1895.2 1435.3,1896.2 1435.9,1899.2 1436.5,1903.6 1437.1,1904.2 1437.7,1903.5 1438.3,1906.2 1438.9,1908.6 1439.5,1905.7 1440.1,1904.3 1440.7,1907.3 1441.3,1906.2 1441.9,1900 1442.5,1898.4 1443.1,1899.8 1443.7,1900.3 1444.3,1900.6 1444.9,1903.5 1445.5,1905.9 1446.1,1903.8 1446.7,1903.3 1447.3,1906.9 1447.9,1908.5 1448.5,1907.6 1449.1,1908.3 1449.7,1910.4 1450.3,1910.6 1450.9,1909.4 1451.5,1910.4 1452.1,1912.8 1452.7,1913.4 1453.3,1913 1453.9,1914.6 1454.5,1917 1455.1,1915.5 1455.7,1912.6 1456.3,1912.5 1456.9,1913.1 1457.5,1909.8 1458.1,1905.8 1458.7,1903 1459.3,1900.3 1459.9,1891.7 1460.5,1882.8 1461.1,1879.9 1461.7,1877.2 1462.3,1875.7 1462.9,1874.2" fill="none" stroke="#0000F0" stroke-width="4.5" stroke-linejoin="round"/>
<polyline points="156.1,1759.6 157.5,1821.5 158.8,1873.7 159.7,1896.1 160.5,1908.9 161.4,1897.4 162.3,1882.5 163.2,1879.9 164.1,1873.7 165.4,1873.8 166.7,1865 167.6,1873.7 168.4,1863.5 169.3,1861.4 170.6,1846.2 172,1838.6 172.8,1786 173.7,1738.5 174.6,1745.4 175.5,1759.6 176.3,1742.8 177.2,1733.2 178.1,1756 179,1785.9 179.9,1761.9 180.7,1742 182.1,1732 183.4,1728 184.3,1736.5 185.1,1750.8 186,1755.5 186.9,1768.4 188.2,1816.1 189.5,1873.7 190.8,1877.7 192.2,1891.3 193.3,1886.7 194.5,1892 195.7,1887.8 197,1896.4 198.3,1900.1 199.6,1910.5 200.9,1917.7 201.8,1906.1 202.7,1891.3 203.6,1872.5 204.5,1847.4 205.3,1841.2 206.2,1829.8 207.1,1838.8 208,1842.1 209.3,1858.2 210.6,1865 211.5,1824.4 212.4,1777.1 213.7,1802.6 215,1821 215.9,1849.7 216.7,1873.7 218.1,1888.5 219.4,1900.1 220.7,1922.9 222,1940.5 222.9,1917.9 223.8,1891.3 224.7,1863.9 225.5,1829.8 226.4,1856.8 227.3,1873.7 228.6,1851.3 229.9,1821 231.2,1814.4 232.6,1803.5 233.7,1774.7 234.9,1732.4 236.1,1703.4 236.9,1723 237.8,1750.8 238.7,1754.9 239.6,1768.4 240.5,1799.3 241.3,1838.6 242.5,1828.5 243.7,1829.6 244.9,1821 246,1773.3 247.2,1710.8 248.4,1663 249.2,1630.2 250.1,1601.5 251,1588.6 251.9,1583.9 252.8,1575.5 253.6,1575.1 255,1565 256.3,1561.1 257.1,1569.1 258,1583.9 258.9,1589.5 259.8,1601.5 261.1,1653.8 262.4,1715.7 263.3,1787.1 264.2,1865 265.1,1847.4 265.9,1838.6 267.2,1840.3 268.6,1847.4 269.9,1820.8 271.2,1803.5 272.1,1726.8 273,1659.4 274.4,1619 275.4,1644.1 276.5,1663 277.3,1692.8 278.2,1715.7 279.1,1707.2 280,1689.3 281.3,1673.1 282.6,1648.9 283.9,1694.3 285.3,1733.2 286.4,1773.6 287.6,1806.7 288.8,1847.4 289.6,1870.7 290.5,1901.8 291.4,1885.7 292.3,1873.7 293.2,1847.1 294,1829.8 295.4,1818.6 296.7,1812.3 298,1816.4 299.3,1829.8 300.5,1821.4 301.6,1823 302.8,1812.3 303.9,1803.5 305,1783.5 306.1,1777.4 307.2,1761.3 308.5,1781.8 309.8,1794.7 310.9,1808.8 312,1813.2 313,1828.5 314.1,1833.6 315.1,1847.4 316.2,1853.2 317.3,1872.2 318.4,1877.2 319.5,1889.6 320.6,1857.1 321.7,1837.4 322.8,1800.6 323.9,1777.1 324.8,1744.2 325.7,1715.7 327,1669.4 328.3,1631.3 329.6,1680.6 330.9,1733.2 331.8,1773.3 332.7,1821 334,1801 335.3,1785.9 336.6,1796.8 338,1812.3 338.8,1829.7 339.7,1856.2 341,1814.8 342.3,1777.1 343.7,1769.4 345,1768.4 346.3,1684.8 347.6,1610.3 348.8,1599.1 349.9,1592.7 350.9,1660.7 352,1733.2 352.9,1798.9 353.8,1873.7 355.1,1853.2 356.4,1838.6 357.3,1799.5 358.2,1768.4 359.3,1760.9 360.5,1759.4 361.7,1750.8 363,1695.8 364.3,1636.6 365.6,1688.8 366.9,1733.2 367.8,1774.5 368.7,1812.3 369.9,1828.8 371,1834.1 372.2,1847.4 373.5,1834.6 374.8,1829.8 376.2,1810.7 377.5,1794.7 378.8,1836.2 380.1,1882.5 381.3,1866.5 382.4,1861.2 383.6,1847.4 384.8,1834.9 386,1814.2 387.1,1803.5 388.5,1778.7 389.8,1759.6 391.1,1766.7 392.4,1777.1 393.7,1754.6 395,1742 396.4,1753.1 397.7,1768.4 399,1753.5 400.3,1742 401.6,1756.9 402.9,1777.1 404,1755.9 405.1,1746.1 406.2,1722.5 407.3,1706.9 408.7,1717.4 410,1733.2 411.1,1740.4 412.3,1753.9 413.5,1759.6 414.4,1785.7 415.2,1803.5 416.1,1776.8 417,1742 417.9,1705.4 418.8,1659.4 419.8,1643.7 420.8,1615.2 421.8,1599.9 423.2,1572.1 424.4,1647.3 425.7,1700.4 427,1761.5 428.3,1780.3 429.7,1805.4 431,1822.4 432.3,1844 433.5,1811.5 434.6,1789.3 435.8,1758 436.7,1774.8 437.6,1787.8 448.1,1750.9 449.4,1779.5 450.7,1814.2 451.9,1828.4 453.1,1853.6 454.3,1870.4 455.6,1863.4 456.9,1849.3 458.1,1835.2 459.2,1812 460.4,1798.4 461.7,1826.2 463,1858.1 464.4,1882.2 465.7,1916.1 467,1884.7 468.3,1858.1 469.6,1847.4 470.9,1844 471.8,1848.1 472.7,1858.1 474,1890.3 475.3,1925.7 476.6,1897.2 478,1875.7 479.3,1853.5 480.6,1835.3 481.9,1845 483.2,1858.1 484.1,1878.4 485,1902 486.3,1873.6 487.6,1849.3 488.8,1799.6 489.9,1753.6 491,1775.8 492,1805.4 493.2,1830.2 494.4,1866.5 495.5,1889.7 496.8,1861.1 498.2,1823 499.5,1822.7 500.8,1812.4 502.1,1820 503.4,1823 504.5,1845.3 505.5,1861.6 506.7,1840.3 507.8,1814.2 509,1781.3 510.1,1741.3 511.2,1763.8 512.2,1779 513.4,1829 514.6,1866.4 515.7,1916.1 516.9,1897.3 518.1,1886.2 519.2,1866.9 520.4,1844.7 521.5,1815.9 522.5,1839.8 523.5,1859.1 524.4,1886.1 525.4,1905.5 526.7,1896.9 528,1884.4 529.3,1862.1 530.7,1831.7 531.7,1861.6 532.8,1884.9 533.8,1914.3 534.8,1905.1 535.8,1902.6 536.8,1893.2 538.1,1886.7 539.4,1875.7 540.6,1876 541.8,1866.7 543,1866.9 544.1,1867.2 545.3,1876.5 546.5,1875.7 547.6,1875 548.8,1865.1 550,1866.9 551.2,1857.9 552.3,1862.7 553.5,1854.6 554.8,1855.8 556.1,1851.1 557.4,1857.9 558.8,1858.1 559.8,1866.2 560.9,1865.5 561.9,1874.8 563,1873 564,1880.9 565.3,1870 566.5,1865.2 567.7,1850.3 569,1845.8 569.9,1854.9 570.9,1872.8 571.9,1876.6 572.8,1893.2 573.7,1902.8 574.6,1919.6 575.7,1902.4 576.9,1895.2 578.1,1875.7 579.3,1870.8 580.4,1858.9 581.6,1852.8 582.7,1841.9 583.7,1840.6 584.8,1831.7 585.9,1858.9 587.1,1876.5 588.3,1905.5 589.3,1882.3 590.4,1866.9 591.7,1859.2 593,1854.6 594.3,1862 595.7,1875.7 597,1893.8 598.3,1917.8 599.6,1902.3 600.9,1893.2 602.2,1864.6 603.6,1840.5 604.7,1819.4 605.8,1805.4 606.8,1821.2 607.8,1843 608.8,1858.1 610.1,1846.8 611.5,1830 612.8,1848.8 614.1,1858.1 615.2,1841.4 616.4,1821.2 617.4,1839.4 618.5,1849.3 619.8,1834.8 621.1,1815.9 622.4,1851.1 623.8,1879.2 625.1,1871.5 626.4,1858.1 627.7,1852.4 629,1840.5 630.2,1825.9 631.4,1800.2 632.5,1784.3 633.9,1797.3 635.2,1814.2 636.5,1805.2 637.8,1800.1 639.1,1809.8 640.4,1823 641.8,1814.1 643.1,1814.2 644.4,1775.3 645.7,1743.9 647,1780.3 648.4,1826.5 649.2,1829.6 650.1,1840.5 651.4,1795 652.7,1752.7 654.1,1734 655.4,1722.8 656.7,1699.6 658,1684.7 658.9,1705.9 659.8,1735.1 660.6,1723.1 661.5,1717.6 662.4,1682.6 663.3,1653.1 664.2,1686.6 665,1726.3 666.4,1744 667.7,1770.3 668.6,1781.9 669.4,1798.4 670.6,1779.8 671.8,1771.1 672.9,1752.7 674.3,1750.5 675.6,1738.6 676.9,1760.5 678.2,1773.8 679.5,1775 680.8,1766.7 682.2,1781.7 683.5,1787.8 684.7,1767.5 685.8,1739.8 687,1719.3 688,1730.2 689,1749.8 690,1761.5 690,1768.4 690.9,1747.8 691.8,1733.2 693.1,1738.1 694.4,1750.8 695.7,1728.5 697,1715.7 697.9,1700.7 698.8,1692.8 699.8,1670 700.9,1655.9 702,1668.1 703.2,1684 704.5,1714.7 705.8,1750.8 706.7,1767.7 707.6,1794.7 708.4,1832.2 709.3,1873.7 710.2,1862 711.1,1856.2 712.4,1836.9 713.7,1821 715,1823.6 716.3,1829.8 717.7,1791.8 719,1763.1 720.3,1800.3 721.6,1847.4 722.9,1852.4 724.3,1865 725.6,1858.6 726.9,1856.2 728.2,1844.9 729.5,1838.6 730.7,1827.5 731.9,1824.9 733,1812.3 734.2,1819.1 735.4,1815.1 736.5,1821 737.7,1841.1 738.9,1869.8 740.1,1891.3 741.4,1831.5 742.7,1764.8 744,1802.2 745.3,1829.8 746.6,1838.4 748,1838.6 749.3,1808 750.6,1773.6 751.9,1787.5 753.2,1794.7 754.6,1782 755.9,1761.3 756.7,1780.4 757.6,1794.7 758.9,1847.6 760.3,1891.3 761.6,1832.9 762.9,1768.4 764.2,1767.9 765.5,1759.6 766.4,1753.7 767.3,1742 768.3,1732.9 769.2,1709.7 770.2,1703.4 771.2,1685.8 772.3,1729.1 773.4,1768.4 774.8,1784.6 776.1,1794.7 777.4,1818.3 778.7,1838.6 780,1859.8 781.3,1873.7 782.5,1861.9 783.7,1838.8 784.9,1824.6 786,1831.8 787.2,1848.8 788.4,1856.2 789.5,1843.3 790.7,1820.6 791.9,1808.8 793.1,1808.1 794.2,1820.9 795.4,1821 796.6,1838.8 797.7,1845.5 798.9,1865 800,1853.5 801,1851.5 802.1,1834.8 803.1,1834 804.2,1821 805.3,1837.2 806.5,1842.2 807.7,1856.2 808.9,1837.9 810,1829.8 811.2,1812.3 812.5,1807.3 813.8,1794.7 815.2,1808.4 816.5,1812.3 817.6,1826.5 818.8,1831.8 820,1843.9 821,1846.7 822.1,1859.8 823.1,1857.2 824.2,1871.5 825.3,1873.7 826.4,1873.4 827.6,1862.8 828.8,1859.7 829.9,1792.8 831.1,1739.6 832.3,1673.5 833.3,1659.3 834.4,1633.1 835.4,1619.9 836.5,1645.6 837.5,1680.5 838.7,1731.4 839.9,1790.3 841.1,1838.6 842.2,1831.1 843.4,1813 844.6,1803.5 845.6,1809.9 846.7,1828.1 847.7,1832.9 848.8,1850 849.8,1856.2 851.2,1796.7 852.5,1733.2 853.8,1758.8 855.1,1777.1 856.3,1771.4 857.5,1757.2 858.6,1750.8 859.9,1764.9 861.3,1785.9 862.1,1738.9 863,1698.1 864.3,1687.1 865.7,1680.5 866.5,1697.6 867.4,1724.4 868.3,1691.9 869.2,1663 870.5,1687.8 871.8,1715.7 873.1,1738.8 874.4,1768.4 875.6,1775.6 876.8,1795.6 878,1803.5 879.3,1746.1 880.6,1680.5 881.9,1674.9 883.2,1663 884.1,1615.9 885,1561.1 886.3,1614.7 887.6,1663 888.9,1621.5 890.2,1575.1 891.6,1587.2 892.9,1592.7 894.2,1611.9 895.5,1627.8 896.7,1606.2 897.9,1576.8 899,1557.6 899.9,1595 900.8,1636.6 901.7,1600 902.5,1571.6 903.9,1613 905.2,1663 906.5,1639 907.8,1620.8 909.1,1668.8 910.4,1724.4 911.8,1685.9 913.1,1655.9 914.4,1672.5 915.7,1698.1 927.1,1605 928,1662.3 928.9,1715.7 930.1,1729.4 931.2,1736.2 932.4,1750.8 933.3,1714.3 934.2,1684 935.3,1695 936.5,1712.5 937.7,1724.4 938.6,1701.5 939.4,1671.7 940.6,1691.3 941.8,1698.2 942.9,1715.7 944.1,1735.7 945.3,1765.3 946.5,1785.9 947.6,1776.1 948.8,1755.6 950,1747.3 951.1,1754.6 952.3,1771 953.5,1777.1 954.7,1783.3 955.8,1779.6 957,1785.9 958,1790 959,1805.2 960,1812.3 960.9,1768.3 961.8,1715.7 963.1,1722.6 964.4,1724.4 965.7,1716.8 967,1701.6 967.9,1721.7 968.8,1733.2 969.7,1798.5 970.5,1856.2 971.9,1837.1 973.2,1812.3 974.1,1812.3 974.9,1803.5 976.2,1822.9 977.6,1838.6 978.7,1824.8 979.9,1800.6 981.1,1785.9 982.4,1813.3 983.7,1847.4 985,1834.1 986.3,1829.8 987.5,1834.3 988.7,1851.1 989.9,1856.2 991,1844.1 992.2,1824.6 993.4,1812.3 994.3,1791.6 995.1,1777.1 996.4,1757.3 997.8,1742 999.1,1750.9 1000.4,1764.8 1001.6,1761.2 1002.7,1769.1 1003.9,1768.4 1005.2,1777.1 1006.5,1777.1 1007.9,1766.8 1009.2,1750.8 1010.5,1779.9 1011.8,1803.5 1013.1,1797.3 1014.5,1785.9 1015.8,1766.6 1017.1,1743.8 1018.4,1798.7 1019.7,1847.4 1021,1810 1022.4,1768.4 1023.5,1759.1 1024.7,1741.2 1025.9,1731.5 1027.2,1771.6 1028.5,1821 1029.7,1822.2 1030.8,1835.8 1032,1838.6 1033.2,1859.9 1034.4,1869 1035.5,1891.3 1036.8,1875.5 1038.2,1865 1039.5,1880.7 1040.8,1900.1 1042,1883.1 1043.1,1873 1044.3,1856.2 1045.6,1842.5 1046.9,1821 1048.3,1837 1049.6,1847.4 1050.5,1880.9 1051.3,1908.9 1052.5,1852.8 1053.7,1785.9 1054.9,1728 1056.2,1748.2 1057.5,1777.1 1058.8,1747.1 1060.1,1724.4 1061.4,1774.2 1062.8,1829.8 1063.6,1680.5 1065,1672.6 1066.3,1655.9 1067.6,1679.7 1068.9,1698.1 1070.2,1724.6 1071.5,1742 1072.9,1738 1074.2,1724.4 1075.5,1718.9 1076.8,1706.9 1078.1,1732.7 1079.4,1750.8 1080.8,1762.6 1082.1,1764.8 1083.4,1728.5 1084.7,1684 1086,1704 1087.3,1715.7 1088.7,1711.4 1090,1698.1 1091.3,1667.7 1092.6,1627.8 1093.9,1626.7 1095.3,1617.3 1096.6,1645 1097.9,1663 1099.2,1636.5 1100.5,1605 1101.8,1650.8 1103.2,1689.3 1104.5,1673 1105.8,1648.9 1106.7,1676.3 1107.5,1698.1 1108.9,1678.1 1110.2,1652.4 1111.5,1659.8 1112.8,1663 1114.1,1643.2 1115.5,1613.8 1116.6,1595.4 1117.7,1571.6 1118.8,1611.7 1119.8,1645.4 1121.2,1714.1 1122.5,1773.6 1123.6,1770.5 1124.7,1758.2 1125.8,1759.8 1126.9,1752.5 1128,1768.2 1129.2,1777.9 1130.4,1794.7 1131.6,1789 1132.7,1793.6 1133.9,1785.9 1135.2,1799.3 1136.5,1803.5 1137.8,1820.8 1139.2,1829.8 1140.3,1838.7 1141.5,1838.1 1142.7,1847.4 1143.9,1830.4 1145,1822.5 1146.2,1803.5 1147.5,1778.2 1148.8,1747.3 1150.1,1782.3 1151.5,1812.3 1152.6,1813.1 1153.8,1804.4 1155,1803.5 1156.1,1799.7 1157.3,1805.9 1158.5,1800 1159.7,1811.8 1160.8,1817.9 1162,1829.8 1163.2,1830.5 1164.3,1838.1 1165.5,1838.6 1166.8,1846 1168.2,1847.4 1169.3,1827.5 1170.5,1800.2 1171.7,1780.6 1173,1794.1 1174.3,1812.3 1175.5,1815.2 1176.6,1826.4 1177.8,1828.1 1179,1830.8 1180.2,1825.3 1181.3,1828.1 1182.5,1833.3 1183.7,1848.5 1184.8,1856.2 1186,1852.3 1187.2,1840 1188.4,1838.6 1189.5,1838.5 1190.7,1848.7 1191.9,1847.4 1193,1852.3 1194.2,1849.9 1195.4,1856.2 1196.5,1850 1197.7,1855.3 1198.8,1846.7 1199.9,1849.2 1200,1829.8 1201.2,1836.4 1202.3,1832.8 1203.5,1838.6 1204.7,1830.7 1205.9,1835.6 1207,1829.8 1208.3,1826.8 1209.7,1817.5 1210.8,1818.9 1212,1810.2 1213.2,1810.5 1214.3,1803.7 1215.5,1809.4 1216.7,1803.5 1218,1795.6 1219.3,1780.6 1220.6,1786.7 1222,1785.9 1222.8,1804 1223.7,1812.3 1225,1817.2 1226.3,1812.3 1227.7,1821.1 1229,1821 1230.3,1820.6 1231.6,1814 1232.8,1819.3 1234,1815.4 1235.1,1821 1236.2,1809.7 1237.3,1803.6 1238.4,1787.1 1239.5,1782.4 1240.8,1791 1242.2,1803.5 1243.5,1818 1244.8,1842.1 1246.1,1854.1 1247.4,1873.7 1248.6,1857.3 1249.8,1852.1 1250.9,1838.6 1252.1,1847 1253.3,1846 1254.5,1856.2 1255.6,1859.3 1256.8,1867.4 1258,1870.2 1259.1,1862.4 1260.3,1847 1261.5,1838.6 1262.6,1845.4 1263.7,1860 1264.8,1863.1 1265.9,1873.7 1267.2,1851.3 1268.5,1838.6 1269.8,1812.9 1271.1,1794.7 1272.5,1797.4 1273.8,1803.5 1274.9,1804.7 1276.1,1817.5 1277.3,1821 1278.5,1835.9 1279.6,1841 1280.8,1856.2 1282.1,1845.4 1283.4,1838.6 1284.8,1805.5 1286.1,1778.9 1287.4,1793.9 1288.7,1812.3 1289.8,1821 1290.9,1838.9 1292,1840.8 1293.1,1856.2 1294.3,1841.1 1295.4,1836.6 1296.6,1821 1297.8,1831.5 1299,1830.8 1300.1,1838.6 1301.3,1847.1 1302.5,1864 1303.6,1873.7 1304.8,1880.9 1306,1882.4 1307.1,1889.6 1308.3,1870.3 1309.5,1857.3 1310.7,1838.6 1311.8,1861.4 1313,1876.8 1314.2,1900.1 1315.3,1890.6 1316.5,1892.9 1317.7,1882.5 1318.9,1881.3 1320,1866.8 1321.2,1865 1322.5,1857.3 1323.8,1856.2 1325.2,1820.7 1326.5,1794.7 1327.6,1765.7 1328.8,1742.7 1330,1713.9 1331.3,1741.1 1332.6,1759.6 1333.9,1774.7 1335.3,1782.4 1336.6,1821.5 1337.9,1856.2 1339.2,1863.4 1340.5,1865 1341.8,1876.3 1343.2,1882.5 1344.5,1876.8 1345.8,1865 1347,1870.9 1348.1,1867.9 1349.3,1873.7 1350.5,1868.3 1351.6,1875.7 1352.8,1870.2 1354,1871.9 1355.2,1863.6 1356.3,1865 1357.5,1864.2 1358.7,1872.7 1359.8,1870.2 1361,1879.3 1362.2,1876.1 1363.4,1882.5 1364.5,1865.1 1365.7,1859.5 1366.9,1842.1 1368,1821.3 1369.2,1791.3 1370.4,1768.4 1371.7,1734.2 1373,1706.9 1374.3,1748.6 1375.7,1794.7 1376.5,1775 1377.4,1759.6 1378.7,1681.4 1380,1610.3 1380.9,1646 1381.8,1689.3 1382.7,1716.4 1383.6,1750.8 1384.4,1729.1 1385.3,1715.7 1386.6,1729.3 1388,1750.8 1388.8,1730.1 1389.7,1715.7 1391,1749.1 1392.3,1785.9 1393.7,1808.1 1395,1838.6 1396.3,1799.1 1397.6,1768.4 1398.8,1761 1400,1766.1 1401.1,1759.6 1402.3,1790.5 1403.5,1815.9 1404.6,1847.4 1405.8,1829.7 1407,1819.5 1408.2,1800 1409.5,1818.3 1410.8,1829.8 1412,1843.7 1413.1,1848.4 1414.3,1865 1415.5,1858.3 1416.6,1866.1 1417.8,1859.7 1419,1867.5 1420.2,1866.5 1421.3,1873.7 1422.6,1868.9 1424,1868.5 1425.1,1847.1 1426.3,1838.5 1427.5,1817.5 1428.8,1830.5 1430.1,1838.6 1431.3,1855 1432.4,1858.5 1433.6,1873.7 1434.8,1876.7 1436,1888.4 1437.1,1891.3 1438.3,1890.6 1439.5,1878.8 1440.6,1877.3 1441.8,1878.1 1443,1888.6 1444.2,1891.3 1445.3,1892.3 1446.5,1883 1447.7,1882.5 1448.8,1874.9 1450,1878.9 1451.2,1873.7 1452.4,1886.9 1453.5,1891.4 1454.7,1905.4 1455.9,1897.8 1457,1899.3 1458.2,1891.3 1459.4,1885.5 1460.6,1868 1461.7,1859.7 1463.1,1865" fill="none" stroke="#FF0000" stroke-width="4.5" stroke-linejoin="round"/>
</g>
<path d="M157.3 1959.5L163.9 1966L157.3 1972.5L150.7 1966ZM172 1959.5L178.6 1966L172 1972.5L165.4 1966ZM186.6 1959.5L193.2 1966L186.6 1972.5L180 1966ZM202.7 1959.5L209.3 1966L202.7 1972.5L196.1 1966ZM208.6 1959.5L215.2 1966L208.6 1972.5L202 1966ZM214.4 1959.5L221 1966L214.4 1972.5L207.8 1966ZM220.3 1959.5L226.9 1966L220.3 1972.5L213.7 1966ZM226.1 1959.5L232.7 1966L226.1 1972.5L219.5 1966ZM237.8 1959.5L244.4 1966L237.8 1972.5L231.2 1966ZM243.7 1959.5L250.3 1966L243.7 1972.5L237.1 1966ZM249.5 1959.5L256.1 1966L249.5 1972.5L242.9 1966ZM261.3 1959.5L267.9 1966L261.3 1972.5L254.7 1966ZM267.1 1959.5L273.7 1966L267.1 1972.5L260.5 1966ZM271.5 1959.5L278.1 1966L271.5 1972.5L264.9 1966ZM283.2 1959.5L289.8 1966L283.2 1972.5L276.6 1966ZM289.1 1959.5L295.7 1966L289.1 1972.5L282.5 1966ZM296.4 1959.5L303 1966L296.4 1972.5L289.8 1966ZM302.2 1959.5L308.8 1966L302.2 1972.5L295.6 1966ZM311 1959.5L317.6 1966L311 1972.5L304.4 1966ZM324.2 1959.5L330.8 1966L324.2 1972.5L317.6 1966ZM330 1959.5L336.6 1966L330 1972.5L323.4 1966ZM335.9 1959.5L342.5 1966L335.9 1972.5L329.3 1966ZM341.8 1959.5L348.4 1966L341.8 1972.5L335.2 1966ZM347.6 1959.5L354.2 1966L347.6 1972.5L341 1966ZM353.5 1959.5L360.1 1966L353.5 1972.5L346.9 1966ZM369.6 1959.5L376.2 1966L369.6 1972.5L363 1966ZM379.8 1959.5L386.4 1966L379.8 1972.5L373.2 1966ZM390.7 1959.5L397.3 1966L390.7 1972.5L384.1 1966ZM404.7 1959.5L411.3 1966L404.7 1972.5L398.1 1966ZM412 1959.5L418.6 1966L412 1972.5L405.4 1966ZM417.9 1959.5L424.5 1966L417.9 1972.5L411.3 1966ZM425.2 1959.5L431.8 1966L425.2 1972.5L418.6 1966ZM432.5 1959.5L439.1 1966L432.5 1972.5L425.9 1966ZM453 1959.5L459.6 1966L453 1972.5L446.4 1966ZM460.3 1959.5L466.9 1966L460.3 1972.5L453.7 1966ZM466.2 1959.5L472.8 1966L466.2 1972.5L459.6 1966ZM473.5 1959.5L480.1 1966L473.5 1972.5L466.9 1966ZM490.5 1959.5L497.1 1966L490.5 1972.5L483.9 1966ZM502.8 1959.5L509.4 1966L502.8 1972.5L496.2 1966ZM513 1959.5L519.6 1966L513 1972.5L506.4 1966ZM523.3 1959.5L529.9 1966L523.3 1972.5L516.7 1966ZM532.1 1959.5L538.7 1966L532.1 1972.5L525.5 1966ZM569.3 1959.5L575.9 1966L569.3 1972.5L562.7 1966ZM601.7 1959.5L608.3 1966L601.7 1972.5L595.1 1966ZM623.7 1959.5L630.3 1966L623.7 1972.5L617.1 1966ZM629.5 1959.5L636.1 1966L629.5 1972.5L622.9 1966ZM644.2 1959.5L650.8 1966L644.2 1972.5L637.6 1966ZM650 1959.5L656.6 1966L650 1972.5L643.4 1966ZM661.7 1959.5L668.3 1966L661.7 1972.5L655.1 1966ZM667.6 1959.5L674.2 1966L667.6 1972.5L661 1966ZM673.4 1959.5L680 1966L673.4 1972.5L666.8 1966ZM708.6 1959.5L715.2 1966L708.6 1972.5L702 1966ZM714.4 1959.5L721 1966L714.4 1972.5L707.8 1966ZM740.8 1959.5L747.4 1966L740.8 1972.5L734.2 1966ZM749.6 1959.5L756.2 1966L749.6 1972.5L743 1966ZM758.3 1959.5L764.9 1966L758.3 1972.5L751.7 1966ZM765.7 1959.5L772.3 1966L765.7 1972.5L759.1 1966ZM774.4 1959.5L781 1966L774.4 1972.5L767.8 1966ZM783.2 1959.5L789.8 1966L783.2 1972.5L776.6 1966ZM794.9 1959.5L801.5 1966L794.9 1972.5L788.3 1966ZM806.7 1959.5L813.3 1966L806.7 1972.5L800.1 1966ZM830.1 1959.5L836.7 1966L830.1 1972.5L823.5 1966ZM837.4 1959.5L844 1966L837.4 1972.5L830.8 1966ZM844.7 1959.5L851.3 1966L844.7 1972.5L838.1 1966ZM852 1959.5L858.6 1966L852 1972.5L845.4 1966ZM859.3 1959.5L865.9 1966L859.3 1972.5L852.7 1966ZM878.4 1959.5L885 1966L878.4 1972.5L871.8 1966ZM909.1 1959.5L915.7 1966L909.1 1972.5L902.5 1966ZM913.5 1959.5L920.1 1966L913.5 1972.5L906.9 1966ZM934 1959.5L940.6 1966L934 1972.5L927.4 1966ZM948.6 1959.5L955.2 1966L948.6 1972.5L942 1966ZM955.9 1959.5L962.5 1966L955.9 1972.5L949.3 1966ZM963.3 1959.5L969.9 1966L963.3 1972.5L956.7 1966ZM969.1 1959.5L975.7 1966L969.1 1972.5L962.5 1966ZM994 1959.5L1000.6 1966L994 1972.5L987.4 1966ZM1018.9 1959.5L1025.5 1966L1018.9 1972.5L1012.3 1966ZM1029.2 1959.5L1035.8 1966L1029.2 1972.5L1022.6 1966ZM1035.9 1959.5L1042.5 1966L1035.9 1972.5L1029.3 1966ZM1051.1 1959.5L1057.7 1966L1051.1 1972.5L1044.5 1966ZM1062.8 1959.5L1069.4 1966L1062.8 1972.5L1056.2 1966ZM1082.1 1959.5L1088.7 1966L1082.1 1972.5L1075.5 1966ZM1095.9 1959.5L1102.5 1966L1095.9 1972.5L1089.3 1966ZM1122.2 1959.5L1128.8 1966L1122.2 1972.5L1115.6 1966ZM1142.7 1959.5L1149.3 1966L1142.7 1972.5L1136.1 1966ZM1246.1 1959.5L1252.7 1966L1246.1 1972.5L1239.5 1966ZM1322.8 1959.5L1329.4 1966L1322.8 1972.5L1316.2 1966ZM1336.8 1959.5L1343.4 1966L1336.8 1972.5L1330.2 1966ZM1368.2 1959.5L1374.8 1966L1368.2 1972.5L1361.6 1966ZM1459.5 1959.5L1466.1 1966L1459.5 1972.5L1452.9 1966Z" fill="#800080"/>
<text x="749" y="2010" font-size="31.4" font-weight="bold" font-style="italic" fill="#7A0A7A">Tuning points</text>
<polyline points="166.1,2337.4 184.4,2337.4 184.4,2333.5 202.6,2333.5 202.6,2294.4 209,2294.4 209,2270.2 215.5,2270.2 215.5,2287.4 224.1,2287.4 224.1,2219.3 226.2,2219.3 226.2,2274.5 237,2274.5 237,2263.7 248.3,2263.7 248.3,2137.1 250.5,2137.1 250.5,2264.8 263.8,2264.8 263.8,2201.5 270.9,2201.5 270.9,2203.2 284.2,2203.2 284.2,2275.6 287.4,2275.6 287.4,2282 291.7,2282 291.7,2212.2 301.4,2212.2 301.4,2283.1 310.6,2283.1 310.6,2311 322.8,2311 322.8,2178.9 328.2,2178.9 328.2,2275.6 333.6,2275.6 333.6,2116.7 340.7,2116.7 340.7,2012.5 346.5,2012.5 346.5,2040.9 351.2,2040.9 351.2,2254.1 355.5,2254.1 355.5,2136.6 369,2136.6 369,2167.1 378,2167.1 378,2092 380.2,2092 380.2,2075.9 390.9,2075.9 390.9,2215.4 404.4,2215.4 404.4,2128.1 411.5,2128.1 411.5,2162.8 416.2,2162.8 416.2,2044.3 425.9,2044.3 425.9,2293.2 432.3,2293.2 432.3,2250.9 452.7,2250.9 452.7,2167.8 462.4,2167.8 462.4,2032.3 467.3,2032.3 467.3,2063 473.8,2063 473.8,2130.6 480,2130.6 490.4,2129.6 490.4,2191.4 503.3,2191.4 503.3,2161.8 514,2161.8 514,2245.1 522.6,2245.1 523.7,2247.2 568.8,2247.2 568.8,2234.3 601,2234.3 601,2235.4 622.4,2235.4 623.5,2233.7 631.5,2233.7 631.5,2194 646.1,2194 646.1,2190.7 653.6,2190.7 653.6,2150.6 666.5,2150.6 666.5,2274.5 671.4,2274.5 671.4,2156 707.2,2156 707.2,2269.1 713,2269.1 713,2155.3 740.5,2155.3 740.5,2042.6 749.8,2042.6 749.8,2185.4 763.1,2185.4 763.1,2054 771.7,2054 771.7,2218 783.5,2218 783.5,2274.1 797.4,2274.1 797.4,2259.5 800,2259.5 810.4,2259.5 810.4,2311 831.2,2311 831.2,2318.5 839.4,2318.5 839.4,2337.8 850.1,2337.8 850.1,2300.2 860.9,2300.2 860.9,2289.5 879.1,2289.5 879.1,2319.6 912.8,2319.6 912.8,2265.9 934.3,2265.9 934.3,2324.9 948.9,2324.9 948.9,2309.3 958.5,2309.3 958.5,2247 968.6,2247 968.6,2318.5 994,2318.5 994,2330.7 1020.2,2330.7 1020.2,2348.6 1035.8,2348.6 1035.8,2331.4 1051.5,2331.4 1051.5,2318.1 1063.1,2318.1 1063.1,2322.8 1082.4,2322.8 1082.4,2353.3 1096,2353.3 1096,2320.6 1120,2320.6 1122.9,2320 1122.9,2353.2 1142.9,2353.2 1142.9,2344.1 1246.4,2344.1 1246.4,2348.4 1323.9,2348.4 1323.9,2368.6 1338.3,2368.6 1338.3,2359.2 1368.4,2359.2 1368.4,2344.1 1459.9,2344.1" fill="none" stroke="#7000E0" stroke-width="3.6" stroke-linejoin="miter"/>
<path d="M171.3 2267.4L187.3 2267.4L187.3 2318L171.3 2318ZM195.3 2328.7L203.3 2318L211.3 2307.4L219.4 2315.4L227.4 2304.7L235.4 2296.7L243.4 2302L246 2291.4L246 2339.4L238 2342L230 2334L219.4 2331.4L208.7 2336.7L195.3 2342ZM244.7 2278L248.7 2238L254 2216.7L258 2243.3L262 2270L262 2302L256.7 2296.7L251.4 2291.4L246 2291.4ZM262 2302L270 2307.4L278 2315.4L288.7 2310L299.4 2291.4L307.4 2304.7L315.4 2323.4L323.4 2310L323.4 2334L315.4 2336.7L307.4 2334L299.4 2331.4L288.7 2331.4L280.7 2334L272.7 2339.4L264.7 2334ZM323.4 2302L331.4 2278L336.7 2264.7L342.1 2259.4L347.4 2270L352.7 2296.7L352.7 2328.7L347.4 2304.7L342.1 2291.4L334 2302L326 2323.4ZM352.7 2310L363.4 2296.7L376.7 2294L384.7 2302L395.4 2312.7L406.1 2299.4L416.7 2296.7L424.7 2323.4L424.7 2342L416.7 2334L406.1 2328.7L395.4 2328.7L384.7 2334L376.7 2331.4L363.4 2331.4L355.4 2339.4ZM451.4 2283.4L459.4 2286L470.1 2288.7L483.4 2288.7L496.8 2291.4L507.4 2291.4L518.1 2310L528.8 2312.7L539.4 2304.7L550.1 2296.7L560 2291.4L560 2334L550.1 2339.4L539.4 2339.4L528.8 2339.4L518.1 2334L507.4 2323.4L496.8 2318L483.4 2312.7L470.1 2307.4L459.4 2307.4L451.4 2307.4ZM550 2302L566 2315.4L582 2318L598 2323.4L614 2318L614 2339.4L598 2339.4L582 2342L566 2342L550 2334ZM619.4 2291.4L626 2259.4L634 2259.4L635.4 2291.4L635.4 2310L627.4 2307.4L620.7 2310ZM654 2291.4L659.4 2286L672.7 2286L672.7 2307.4L656.7 2307.4ZM703.4 2286L711.4 2286L715.4 2286L720.7 2286L720.7 2315.4L703.4 2315.4ZM720.7 2318L736.7 2315.4L752.7 2312.7L752.7 2334L736.7 2336.7L720.7 2336.7ZM752.7 2291.4L760.7 2278L771.4 2291.4L771.4 2315.4L752.7 2315.4Z" fill="#0F720F" fill-opacity="0.85"/>
<polyline points="156.4,2301.3 157.5,2325.2 158.6,2344.3 159.7,2351.5 160.7,2355 161.8,2345.5 162.9,2329.2 164,2327.2 165,2319 166.1,2318.5 167.2,2318.1 168.2,2324.3 169.3,2324.9 170.4,2321.4 171.5,2312.1 173.2,2219.7 174.7,2301.3 175.8,2286.7 176.8,2269.1 177.9,2176.8 179.6,2312.1 181.1,2269.1 182.6,2258.4 184.4,2080.2 186.1,2290.6 187.4,2309.4 188.6,2322.8 189.7,2333.7 190.8,2339.8 191.9,2350.7 192.9,2339.4 194,2333.5 195.1,2334.9 196.2,2344.3 197.2,2335.4 198.3,2332 199.4,2322.8 200.5,2329.7 201.5,2325.6 202.6,2333.5 203.7,2314.3 204.7,2301.3 205.8,2309.5 206.9,2322.8 208,2313 209,2312.1 210.1,2305.5 211.2,2306.1 212.3,2297 213.3,2311.5 214.4,2319.6 215.5,2333.5 216.6,2328.2 217.6,2328.7 218.7,2322.8 219.8,2317.4 220.9,2302.3 221.9,2294.9 223,2316.4 224.1,2344.3 225.1,2324.8 226.2,2312.1 227.6,2260.7 229,2214.4 230.5,2333.5 231.6,2325.9 232.7,2312.1 233.7,2308.2 234.8,2301.3 235.9,2297.8 237,2289.3 238,2286.3 239.1,2312.9 240.2,2346.4 241.2,2317.9 242.3,2294.9 243.4,2306.5 244.5,2322.8 245.5,2277.7 246.6,2239.1 247.7,2249.9 248.8,2268.5 249.8,2279.8 250.9,2273 252,2258.4 253.1,2219 254.1,2172.5 255.2,2239 256.3,2301.3 257.4,2153.2 258.4,2218.7 259.5,2290.6 260.6,2271.5 261.6,2258.4 262.7,2286.5 263.8,2322.8 264.9,2312 265.9,2310.7 267,2301.3 268.1,2316.5 269.2,2321.1 270.2,2333.5 271.3,2308 272.4,2291.5 273.5,2264.8 274.5,2286 275.6,2300.6 276.7,2322.8 277.7,2324.9 278.8,2333.4 279.9,2333.5 281,2332.3 282,2320.4 283.1,2318.5 284.2,2324 285.3,2337.8 286.3,2326.9 287.4,2324.2 288.5,2312.1 289.6,2310.3 290.6,2298.9 291.7,2297 292.8,2299.2 293.9,2311 294.9,2312.1 296,2309.2 297.1,2294.9 298.1,2290.6 299.2,2282.8 300.3,2283.5 301.4,2277.7 302.4,2296.3 303.5,2304.4 304.6,2322.8 305.7,2321 306.7,2332.1 307.8,2328.6 308.9,2333.5 310,2324.5 311,2324.1 312.1,2312.8 313.2,2307.8 314.2,2313.5 315.3,2326.8 316.4,2333.5 317.5,2331.7 318.5,2324.8 319.6,2322.8 320.7,2326.5 321.8,2337.8 322.8,2325.3 323.9,2316.3 325,2301.3 326.1,2290.6 327.1,2284.4 328.2,2287.5 329.3,2279.8 330.4,2295.4 331.4,2307.8 332.5,2278.3 333.6,2243.3 334.6,2255 335.7,2256.4 336.8,2269.1 337.9,2270.9 338.9,2284.6 340,2286.3 341.1,2252.4 342.2,2211.3 343.2,2177.9 344.3,2221 345.4,2269.1 346.5,2262.3 347.5,2268.1 348.6,2259.2 349.7,2258.4 350.7,2272.6 351.8,2290.6 352.9,2306.4 354,2328.5 355,2344.3 356.1,2336.4 357.2,2322.8 358.3,2315.3 359.3,2301.3 360.4,2295.6 361.5,2284.2 362.6,2277.7 363.6,2302.9 364.7,2333.5 365.8,2314.9 366.8,2301.3 367.9,2291 369,2291.4 370.1,2279.8 371.1,2299.5 372.2,2312.1 373.3,2297.9 374.4,2277.7 375.4,2298.2 376.5,2312.1 377.6,2302.7 378.7,2286.3 379.7,2295.3 380.8,2301.3 381.9,2327 383,2344.3 384,2332.3 385.1,2308.7 386.2,2297 387.2,2300.7 388.3,2312.1 389.4,2313 390.5,2321.8 391.5,2322.8 392.6,2320.9 393.7,2312.3 394.8,2312.1 395.8,2305.5 396.9,2303.6 398,2297 399.1,2317.3 400.1,2333.5 401.2,2319.3 402.3,2301.3 403.3,2298.7 404.4,2289.8 405.5,2286.3 406.6,2297.8 407.6,2312.1 408.7,2301.6 409.8,2296.5 410.9,2286.3 412.1,2285.9 413.3,2279.1 414.5,2277.7 415.9,2288.6 417.3,2307.8 418.4,2307.3 419.5,2315.3 420.5,2316.3 421.6,2325.6 422.7,2328.2 423.7,2337.8 424.8,2333.9 425.9,2336.7 427,2333.5 428,2344 429.1,2341.9 430.2,2352.8 431.3,2335 432.3,2322.8 450.6,2327.1 451.7,2273.4 452.7,2216.9 453.8,2166.1 454.9,2194.5 456,2226.2 457,2256.7 458.1,2290.6 459.2,2296.7 460.2,2307.8 461.3,2296.3 462.4,2293.1 463.5,2279.8 464.5,2258.1 465.6,2232.6 466.7,2271.6 467.8,2307.8 468.8,2304.9 469.9,2290.4 471,2286.3 472.1,2289.5 473.1,2299.4 474.2,2301.3 475.3,2297.4 476.3,2290.6 477.4,2318.3 478.5,2340 479.7,2344.3 480.7,2310.8 481.8,2286.3 482.9,2287.9 484,2301.3 485,2303.5 486.1,2284.9 487.2,2259.5 488.2,2241.2 489.3,2280.1 490.4,2322.8 491.5,2327.6 492.5,2340 493.6,2310.1 494.7,2286.3 495.8,2290 496.8,2301.3 497.9,2311.8 499,2327.1 500.1,2312.9 501.1,2306.7 502.2,2290.6 503.3,2300.4 504.4,2301.3 505.4,2298.9 506.5,2288.4 507.6,2300.2 508.6,2300.3 509.7,2312.1 510.8,2315.5 511.9,2328.4 512.9,2333.5 514,2332.9 515.1,2323.9 516.2,2322.8 517.2,2332.1 518.3,2344.3 519.4,2329.2 520.5,2319.3 521.5,2303.5 522.6,2325 523.7,2342.1 524.7,2333.8 525.8,2318.5 526.9,2327.9 528,2325.8 529,2333.5 530.1,2319.2 531.2,2317.9 532.3,2303.5 533.3,2323.6 534.4,2332.5 535.5,2350.7 536.6,2340.1 537.6,2335.6 538.7,2324.9 539.8,2310.8 540.9,2292.7 541.9,2312.6 543,2325.2 544.1,2346.4 545.1,2337.9 546.2,2341.8 547.3,2333.5 548.4,2331.4 549.4,2320.1 550.5,2318.5 551.6,2298.5 552.7,2286.3 553.7,2308.3 554.8,2333.5 555.9,2322.9 557,2323.4 558,2312.1 559.1,2303 560.2,2286.3 561.2,2308.3 562.3,2322.8 563.4,2332.8 564.5,2335.2 565.5,2344.3 566.6,2335.1 567.7,2333.5 568.8,2329.7 569.8,2334.5 570.9,2329.2 572,2340.1 573.1,2342.1 574.1,2339 575.2,2328 576.3,2324.9 577.4,2307.7 578.4,2299.2 579.5,2307 580.6,2324 581.6,2333.5 582.7,2337.4 583.8,2336 584.9,2344.2 585.9,2342.1 587,2340.3 588.1,2328.9 589.2,2324.9 590.2,2318.8 591.3,2325.1 592.4,2318.5 593.5,2328.4 594.5,2328.9 595.6,2337.8 596.7,2332.6 597.7,2335.3 598.8,2331.4 599.9,2332.8 601,2327 602,2334.8 603.1,2331.4 604.2,2330.1 605.3,2318.5 606.3,2318.5 607.4,2322.2 608.5,2335.5 609.6,2337.8 610.6,2335.3 611.7,2322.9 612.8,2318.5 613.9,2324.2 614.9,2336.5 616,2342.1 617.1,2332.4 618.1,2315.3 619.2,2308.9 620.3,2294.9 621.4,2294.7 622.4,2287.4 623.5,2286.3 624.6,2292.8 625.7,2307.8 626.7,2280.6 627.8,2258.4 628.9,2255.6 630,2261.6 631,2254.2 632.1,2258.4 633.2,2280.4 634.2,2307.8 635.3,2312.1 636.4,2327.9 637.5,2333.5 638.5,2329.6 639.6,2316.6 640.7,2314 641.8,2305.6 642.8,2314.8 643.9,2316.6 645,2324.9 646.1,2327.2 647.1,2336 648.2,2335.7 649.3,2334 650.4,2325.7 651.4,2324.9 652.5,2308.4 653.6,2302.3 654.6,2286.3 655.7,2294 656.8,2294 657.9,2305.5 658.9,2307.8 660,2306.2 661.1,2295.3 662.2,2294.8 663.2,2286.3 664.3,2293.8 665.4,2294.8 666.5,2306.2 667.5,2307.8 668.6,2305.3 669.7,2293.9 670.7,2295.4 671.8,2286.3 672.9,2317.4 674,2340 675,2344.9 676.1,2341 677.2,2346.4 678.3,2342.9 679.3,2348.3 680.4,2341.3 681.5,2344.3 682.6,2343.6 683.6,2351.6 684.7,2350.7 685.8,2356.4 686.8,2352.1 687.9,2359.3 689,2354.3 690.1,2360.5 691.1,2355 692.2,2345 693.3,2324.2 694.4,2312.1 695.4,2296.1 696.5,2286.3 697.6,2303.4 698.7,2329.2 699.7,2319.5 700.8,2319.6 701.9,2312.1 703,2305.2 704,2292.1 705.1,2286.3 706.2,2293.3 707.2,2305.6 708.3,2312.1 709.4,2300.8 710.5,2286.3 711.5,2311.2 712.6,2329.2 713.7,2327.3 714.8,2313.6 715.8,2312.1 716.9,2301.6 718,2298.5 719.1,2286.3 720.1,2306.9 721.2,2318.8 722.3,2337.8 723.3,2328 724.4,2330.8 725.5,2320.6 726.6,2322.1 727.6,2315.2 728.7,2321.6 729.8,2318.5 730.9,2320.8 731.9,2313 733,2320.9 734.1,2316.3 735.4,2318.2 736.8,2313.6 738.1,2319.3 739.5,2316.3 740.5,2317.7 741.6,2312.2 742.7,2315.5 743.7,2312.1 744.8,2307.8 745.9,2294.9 747,2288.4 748,2293.2 749.1,2306.9 750.2,2312.1 751.3,2318.8 752.3,2320.4 753.4,2331.5 754.5,2333.5 755.6,2320.7 756.6,2300.5 757.7,2286.3 759,2267.5 760.3,2261.5 761.6,2243.3 762.9,2290.7 764.1,2329.2 765.2,2323 766.3,2311.3 767.4,2305.6 768.8,2294.5 770.2,2286.3 771.4,2300.7 772.7,2322.8 773.8,2329.2 774.9,2341.7 776,2348.6 777,2340.5 778.1,2322.9 779.2,2316.3 780.4,2308.1 781.5,2309.9 782.7,2301.6 783.9,2299.2 785.3,2312.1 786.7,2333.5 787.8,2331.5 788.8,2339.2 789.9,2335.1 791,2337.8 792.1,2339 793.1,2346.7 794.2,2343.2 795.3,2348.6 796.5,2343.2 797.6,2345.3 798.8,2333.9 800,2333.5 799.7,2340 800.7,2349.2 801.8,2350.7 802.9,2349.5 804,2340.9 805,2342.1 806.1,2337 807.2,2339 808.2,2331.4 809.3,2342.7 810.4,2348.6 811.5,2346 812.5,2335.4 813.6,2333.5 814.7,2333.5 815.8,2344.3 816.8,2346.4 817.9,2352.5 819,2352 820.1,2359.3 821.1,2352.9 822.2,2350.7 823.3,2351.9 824.4,2358.3 825.4,2359.3 826.5,2355.8 827.6,2347.3 828.6,2344.3 829.7,2340.3 830.8,2343.3 831.9,2335.7 832.9,2337.8 834,2334.1 835.1,2337.9 836.2,2333.5 837.2,2332.2 838.3,2327.1 839.4,2337 840.5,2342.1 841.5,2350 842.6,2355 843.7,2343.2 844.7,2327.1 845.8,2336 846.9,2342.1 848,2344.3 849,2336.2 850.1,2337.8 851.2,2340.2 852.3,2349.3 853.3,2350.7 854.4,2340.7 855.5,2320.4 856.6,2307.8 857.6,2313.1 858.7,2329.1 859.8,2335.7 860.9,2340.7 861.9,2336 863,2342.1 864.1,2334.2 865.1,2331.4 866.2,2331.7 867.3,2337.8 868.4,2331.4 869.4,2336.5 870.5,2329.2 871.6,2336.7 872.7,2335.3 873.7,2344.3 874.8,2327.1 875.9,2320.4 877,2303.5 878,2319 879.1,2329.2 880.2,2342.9 881.2,2351.8 882.3,2353 883.4,2349.5 884.5,2352.5 885.5,2350.7 886.6,2346.9 887.7,2335.7 888.8,2311 889.8,2282 890.9,2317.1 892,2348.6 893.1,2350.2 894.1,2344.6 895.2,2348.6 896.3,2332.7 897.4,2324.9 898.4,2326.8 899.5,2335.7 900.6,2324.8 901.6,2318.5 902.7,2318.5 903.8,2325.1 904.9,2324.9 929.6,2312.1 930.6,2335.6 931.7,2364.7 932.8,2343 933.9,2324.9 934.9,2323.3 936,2329.3 937.1,2323.8 938.1,2329.2 939.2,2324.1 940.3,2330.9 941.4,2327.1 942.4,2335.6 943.5,2335.6 944.6,2346.4 945.7,2339.8 946.7,2340.3 947.8,2332.2 948.9,2329.2 950,2318.6 951,2313.1 952.1,2318.3 953.2,2329.2 954.2,2334.9 955.3,2346.4 956.4,2338.7 957.5,2337.9 958.5,2329.2 959.9,2319.9 961.3,2307.8 962.6,2322.8 963.9,2333.5 965,2326.6 966.1,2313.7 967.1,2307.8 968.2,2312 969.3,2320.6 970.4,2324.9 971.4,2331.5 972.5,2331.4 973.6,2337.8 974.6,2337.5 975.7,2346.6 976.8,2346.4 977.9,2335.1 978.9,2316.3 980.3,2314.4 981.7,2305.6 983,2314.6 984.3,2316.3 985.4,2321.9 986.5,2316.6 987.5,2320.6 995,2337.8 1007.9,2358.2 1017.6,2341 1036.9,2335.7 1047.6,2347.5 1056.2,2344.3 1067,2332.5 1077.7,2351.8 1087.4,2341 1094.9,2346.4 1107.8,2347.5 1120,2352.8 1127.7,2338.1 1143.3,2362.8 1144.5,2356.3 1145.7,2358.9 1146.9,2348.4 1148.1,2346 1156.6,2344.1 1171,2353.2 1179.4,2344.5 1189.1,2344.1 1199.9,2339.7 1210.7,2344.1 1221.6,2350.8 1229.3,2330.1 1240.8,2352.5 1250.5,2348.9 1266.1,2353.7 1310.6,2362.8 1320.3,2353.7 1327.5,2356.1 1364.8,2355.6 1366.1,2351.9 1367.5,2337.4 1368.8,2334.9 1370.1,2326 1386,2358.5 1387.4,2352.1 1388.7,2357.9 1390.1,2351.3 1399.7,2343.6 1410.5,2349.4 1429.8,2342.1 1439.4,2348.9 1451.5,2354.2" fill="none" stroke="#0F720F" stroke-width="4" stroke-linejoin="round"/>
<path d="M154.5 1490.7H1465V1538.8H154.5Z" fill="none" stroke="#222" stroke-width="3.2"/>
<path d="M187.8 1490.7V1538.8M376.8 1490.7V1538.8M789.7 1490.7V1538.8M1047 1490.7V1538.8" stroke="#222" stroke-width="3"/>
<text x="173.5" y="1526" font-size="37" font-weight="bold" fill="#2a2a2a" text-anchor="middle">L</text>
<text x="262.5" y="1526" font-size="37" font-weight="bold" fill="#2a2a2a" text-anchor="middle">Middle</text>
<text x="573.4" y="1526" font-size="37" font-weight="bold" fill="#2a2a2a" text-anchor="middle">Early Pleistocene</text>
<text x="921" y="1526" font-size="37" font-weight="bold" fill="#2a2a2a" text-anchor="middle">Late Pliocene</text>
<text x="1277" y="1526" font-size="37" font-weight="bold" fill="#2a2a2a" text-anchor="middle">Early Pliocene</text>
<path d="M154.5 1538.8V2378.6H1465V1538.8" fill="none" stroke="#000" stroke-width="3.2"/>
<path d="M154.5 1924.8H144M154.5 1892.6H134.5M154.5 1860.4H144M154.5 1828.3H134.5M154.5 1796.1H144M154.5 1764H134.5M154.5 1731.8H144M154.5 1699.7H134.5M154.5 1667.5H144M154.5 1635.4H134.5M154.5 1603.2H144M154.5 1571H134.5M1465 2378.3H1484M1465 2330.2H1475.5M1465 2282.2H1484M1465 2234.1H1475.5M1465 2186.1H1484M1465 2138H1475.5M1465 2089.9H1484M1465 2041.9H1475.5M1465 1993.8H1484M154.8 2378.6V2397.6M216.6 2378.6V2388.6M278.4 2378.6V2397.6M340.2 2378.6V2388.6M402.1 2378.6V2397.6M463.9 2378.6V2388.6M525.7 2378.6V2397.6M587.5 2378.6V2388.6M649.3 2378.6V2397.6M711.1 2378.6V2388.6M772.9 2378.6V2397.6M834.7 2378.6V2388.6M896.5 2378.6V2397.6M958.4 2378.6V2388.6M1020.2 2378.6V2397.6M1082 2378.6V2388.6M1143.8 2378.6V2397.6M1205.6 2378.6V2388.6M1267.4 2378.6V2397.6M1329.2 2378.6V2388.6M1391 2378.6V2397.6M1452.9 2378.6V2388.6" fill="none" stroke="#000" stroke-width="3"/>
<text x="122.5" y="1904.8" font-size="41" text-anchor="end">60</text>
<text x="122.5" y="1840.5" font-size="41" text-anchor="end">80</text>
<text x="122.5" y="1776.2" font-size="41" text-anchor="end">100</text>
<text x="122.5" y="1711.9" font-size="41" text-anchor="end">120</text>
<text x="122.5" y="1647.6" font-size="41" text-anchor="end">140</text>
<text x="122.5" y="1583.2" font-size="41" text-anchor="end">160</text>
<text x="1496" y="2389.5" font-size="41">0</text>
<text x="1496" y="2293.4" font-size="41">4</text>
<text x="1496" y="2197.3" font-size="41">8</text>
<text x="1496" y="2101.1" font-size="41">12</text>
<text x="1496" y="2005" font-size="41">16</text>
<text x="154.8" y="2441" font-size="40.5" text-anchor="middle">0</text>
<text x="278.4" y="2441" font-size="40.5" text-anchor="middle">500</text>
<text x="402.1" y="2441" font-size="40.5" text-anchor="middle">1000</text>
<text x="525.7" y="2441" font-size="40.5" text-anchor="middle">1500</text>
<text x="649.3" y="2441" font-size="40.5" text-anchor="middle">2000</text>
<text x="772.9" y="2441" font-size="40.5" text-anchor="middle">2500</text>
<text x="896.5" y="2441" font-size="40.5" text-anchor="middle">3000</text>
<text x="1020.2" y="2441" font-size="40.5" text-anchor="middle">3500</text>
<text x="1143.8" y="2441" font-size="40.5" text-anchor="middle">4000</text>
<text x="1267.4" y="2441" font-size="40.5" text-anchor="middle">4500</text>
<text x="1391" y="2441" font-size="40.5" text-anchor="middle">5000</text>
<text x="800.6" y="2511.6" font-size="49" text-anchor="middle">Age (ka)</text>
<text transform="translate(36 1733.5) rotate(-90)" font-size="49" text-anchor="middle">ACC strengh (%)</text>
<text transform="translate(1599.4 2172.5) rotate(-90)" font-size="48" text-anchor="middle">Sed.-rate (cmka<tspan dy="-21" font-size="27">-1</tspan><tspan dy="21">)</tspan></text>
<text x="1451.5" y="1575" font-size="35" font-weight="bold" fill="#0000E6" text-anchor="end">U1540</text>
<text x="1451.5" y="1613" font-size="35" font-weight="bold" fill="#F00000" text-anchor="end">U1541</text>
<text x="1413" y="1667" font-size="47" font-weight="bold" fill="#333">b</text>
<text x="171.5" y="2016" font-size="47" font-weight="bold" fill="#333">c</text>
<text x="1402" y="2056.7" font-size="47" font-weight="bold" fill="#333">d</text>
<text x="1447" y="2283" font-size="35" font-weight="bold" fill="#7A00F0" text-anchor="end">U1540</text>
<text x="1447" y="2319" font-size="35" font-weight="bold" fill="#0F720F" text-anchor="end">U1541</text></svg>
</body></html>
